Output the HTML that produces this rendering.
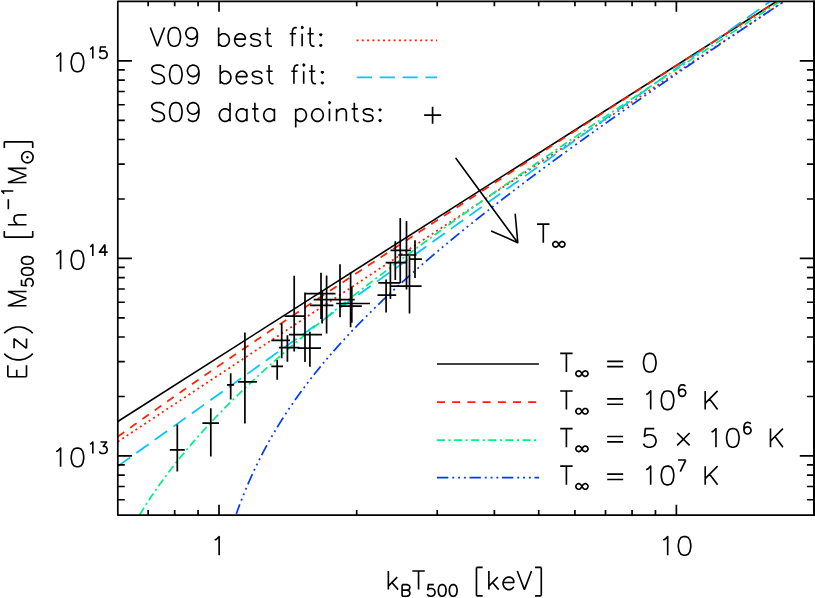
<!DOCTYPE html>
<html><head><meta charset="utf-8"><title>M500-T500 relation</title>
<style>html,body{margin:0;padding:0;background:#fff;font-family:"Liberation Sans",sans-serif}svg{display:block}</style></head>
<body><svg width="815" height="598" viewBox="0 0 815 598" role="img">
<title>E(z) M500 versus kB T500</title>
<desc>Log-log plot of E(z) M500 [h^-1 Msun] against kB T500 [keV]. Legend: V09 best fit (red dotted), S09 best fit (cyan long-dashed), S09 data points (+); T_inf = 0 (black solid), T_inf = 10^6 K (red dashed), T_inf = 5 x 10^6 K (green dash-dot), T_inf = 10^7 K (blue dash-dot-dot-dot). Arrow labelled T_inf.</desc>
<rect x="0" y="0" width="815" height="598" fill="#fff"/>
<clipPath id="c"><rect x="117.8" y="1.37" width="696.1" height="513.75"/></clipPath>
<g clip-path="url(#c)" fill="none" stroke-width="1.75">
<path d="M117.80 421.46 L813.90 -22.38" stroke="#000" stroke-width="1.62"/>
<path d="M117.80 441.70 L813.90 -18.19" stroke="#ff2000" stroke-dasharray="2 3.3"/>
<path d="M117.80 466.19 L813.90 -29.77" stroke="#00c8ff" stroke-dasharray="15.2 7.52"/>
<path d="M117.80 436.70 L118.30 436.34 L118.80 435.98 L119.30 435.62 L119.80 435.25 L120.30 434.89 L120.80 434.53 L121.30 434.17 L121.80 433.81 L122.30 433.45 L122.80 433.09 L123.30 432.73 L123.80 432.37 L124.30 432.01 L124.80 431.65 L125.30 431.29 L125.80 430.93 L126.30 430.57 L126.80 430.21 L127.30 429.85 L127.80 429.49 L128.30 429.13 L128.80 428.77 L129.30 428.42 L129.80 428.06 L130.30 427.70 L130.80 427.34 L131.30 426.98 L131.80 426.62 L132.30 426.27 L132.80 425.91 L133.30 425.55 L133.80 425.19 L134.30 424.83 L134.80 424.48 L135.30 424.12 L135.80 423.76 L136.30 423.40 L136.80 423.05 L137.30 422.69 L137.80 422.33 L138.30 421.98 L138.80 421.62 L139.30 421.26 L139.80 420.91 L140.30 420.55 L140.80 420.19 L141.30 419.84 L141.80 419.48 L142.30 419.13 L142.80 418.77 L143.30 418.41 L143.80 418.06 L144.30 417.70 L144.80 417.35 L145.30 416.99 L145.80 416.64 L146.30 416.28 L146.80 415.93 L147.30 415.57 L147.80 415.22 L148.30 414.86 L148.80 414.51 L149.30 414.15 L149.80 413.80 L150.30 413.44 L150.81 413.09 L151.31 412.74 L151.81 412.38 L152.31 412.03 L152.81 411.67 L153.31 411.32 L153.81 410.97 L154.31 410.61 L154.81 410.26 L155.31 409.91 L155.81 409.55 L156.31 409.20 L156.81 408.85 L157.31 408.49 L157.81 408.14 L158.31 407.79 L158.81 407.44 L159.31 407.08 L159.81 406.73 L160.31 406.38 L160.81 406.03 L161.31 405.67 L161.81 405.32 L162.31 404.97 L162.81 404.62 L163.31 404.27 L163.81 403.91 L164.31 403.56 L164.81 403.21 L165.31 402.86 L165.81 402.51 L166.31 402.16 L166.81 401.81 L167.31 401.45 L167.81 401.10 L168.31 400.75 L168.81 400.40 L169.31 400.05 L169.81 399.70 L170.31 399.35 L170.81 399.00 L171.31 398.65 L171.81 398.30 L172.31 397.95 L172.81 397.60 L173.31 397.25 L173.81 396.90 L174.31 396.55 L174.81 396.20 L175.31 395.85 L175.81 395.50 L176.31 395.15 L176.81 394.80 L177.31 394.45 L177.81 394.10 L178.31 393.75 L178.81 393.40 L179.31 393.06 L179.81 392.71 L180.31 392.36 L180.81 392.01 L181.31 391.66 L181.81 391.31 L182.31 390.96 L182.81 390.62 L183.31 390.27 L183.81 389.92 L184.31 389.57 L184.81 389.22 L185.31 388.87 L185.81 388.53 L186.31 388.18 L186.81 387.83 L187.31 387.48 L187.81 387.14 L188.31 386.79 L188.81 386.44 L189.31 386.09 L189.81 385.75 L190.31 385.40 L190.81 385.05 L191.31 384.71 L191.81 384.36 L192.31 384.01 L192.81 383.66 L193.31 383.32 L193.81 382.97 L194.31 382.62 L194.81 382.28 L195.31 381.93 L195.81 381.59 L196.31 381.24 L196.81 380.89 L197.31 380.55 L197.81 380.20 L198.31 379.85 L198.81 379.51 L199.31 379.16 L199.81 378.82 L200.31 378.47 L200.81 378.13 L201.31 377.78 L201.81 377.44 L202.31 377.09 L202.81 376.74 L203.31 376.40 L203.81 376.05 L204.31 375.71 L204.81 375.36 L205.31 375.02 L205.81 374.67 L206.31 374.33 L206.81 373.98 L207.31 373.64 L207.81 373.30 L208.31 372.95 L208.81 372.61 L209.31 372.26 L209.81 371.92 L210.31 371.57 L210.81 371.23 L211.31 370.89 L211.81 370.54 L212.31 370.20 L212.81 369.85 L213.31 369.51 L213.81 369.17 L214.31 368.82 L214.81 368.48 L215.31 368.14 L215.81 367.79 L216.31 367.45 L216.81 367.10 L217.31 366.76 L217.81 366.42 L218.31 366.08 L218.81 365.73 L219.31 365.39 L219.81 365.05 L220.31 364.70 L220.81 364.36 L221.32 364.02 L221.82 363.68 L222.32 363.33 L222.82 362.99 L223.32 362.65 L223.82 362.31 L224.32 361.96 L224.82 361.62 L225.32 361.28 L225.82 360.94 L226.32 360.59 L226.82 360.25 L227.32 359.91 L227.82 359.57 L228.32 359.23 L228.82 358.88 L229.32 358.54 L229.82 358.20 L230.32 357.86 L230.82 357.52 L231.32 357.18 L231.82 356.83 L232.32 356.49 L232.82 356.15 L233.32 355.81 L233.82 355.47 L234.32 355.13 L234.82 354.79 L235.32 354.45 L235.82 354.11 L236.32 353.76 L236.82 353.42 L237.32 353.08 L237.82 352.74 L238.32 352.40 L238.82 352.06 L239.32 351.72 L239.82 351.38 L240.32 351.04 L240.82 350.70 L241.32 350.36 L241.82 350.02 L242.32 349.68 L242.82 349.34 L243.32 349.00 L243.82 348.66 L244.32 348.32 L244.82 347.98 L245.32 347.64 L245.82 347.30 L246.32 346.96 L246.82 346.62 L247.32 346.28 L247.82 345.94 L248.32 345.60 L248.82 345.26 L249.32 344.92 L249.82 344.58 L250.32 344.24 L250.82 343.90 L251.32 343.57 L251.82 343.23 L252.32 342.89 L252.82 342.55 L253.32 342.21 L253.82 341.87 L254.32 341.53 L254.82 341.19 L255.32 340.85 L255.82 340.52 L256.32 340.18 L256.82 339.84 L257.32 339.50 L257.82 339.16 L258.32 338.82 L258.82 338.48 L259.32 338.15 L259.82 337.81 L260.32 337.47 L260.82 337.13 L261.32 336.79 L261.82 336.46 L262.32 336.12 L262.82 335.78 L263.32 335.44 L263.82 335.10 L264.32 334.77 L264.82 334.43 L265.32 334.09 L265.82 333.75 L266.32 333.42 L266.82 333.08 L267.32 332.74 L267.82 332.40 L268.32 332.07 L268.82 331.73 L269.32 331.39 L269.82 331.05 L270.32 330.72 L270.82 330.38 L271.32 330.04 L271.82 329.71 L272.32 329.37 L272.82 329.03 L273.32 328.69 L273.82 328.36 L274.32 328.02 L274.82 327.68 L275.32 327.35 L275.82 327.01 L276.32 326.67 L276.82 326.34 L277.32 326.00 L277.82 325.66 L278.32 325.33 L278.82 324.99 L279.32 324.66 L279.82 324.32 L280.32 323.98 L280.82 323.65 L281.32 323.31 L281.82 322.97 L282.32 322.64 L282.82 322.30 L283.32 321.97 L283.82 321.63 L284.32 321.30 L284.82 320.96 L285.32 320.62 L285.82 320.29 L286.32 319.95 L286.82 319.62 L287.32 319.28 L287.82 318.95 L288.32 318.61 L288.82 318.27 L289.32 317.94 L289.82 317.60 L290.32 317.27 L290.82 316.93 L291.33 316.60 L291.83 316.26 L292.33 315.93 L292.83 315.59 L293.33 315.26 L293.83 314.92 L294.33 314.59 L294.83 314.25 L295.33 313.92 L295.83 313.58 L296.33 313.25 L296.83 312.91 L297.33 312.58 L297.83 312.24 L298.33 311.91 L298.83 311.57 L299.33 311.24 L299.83 310.91 L300.33 310.57 L300.83 310.24 L301.33 309.90 L301.83 309.57 L302.33 309.23 L302.83 308.90 L303.33 308.56 L303.83 308.23 L304.33 307.90 L304.83 307.56 L305.33 307.23 L305.83 306.89 L306.33 306.56 L306.83 306.23 L307.33 305.89 L307.83 305.56 L308.33 305.22 L308.83 304.89 L309.33 304.56 L309.83 304.22 L310.33 303.89 L310.83 303.56 L311.33 303.22 L311.83 302.89 L312.33 302.56 L312.83 302.22 L313.33 301.89 L313.83 301.56 L314.33 301.22 L314.83 300.89 L315.33 300.56 L315.83 300.22 L316.33 299.89 L316.83 299.56 L317.33 299.22 L317.83 298.89 L318.33 298.56 L318.83 298.22 L319.33 297.89 L319.83 297.56 L320.33 297.22 L320.83 296.89 L321.33 296.56 L321.83 296.23 L322.33 295.89 L322.83 295.56 L323.33 295.23 L323.83 294.90 L324.33 294.56 L324.83 294.23 L325.33 293.90 L325.83 293.56 L326.33 293.23 L326.83 292.90 L327.33 292.57 L327.83 292.24 L328.33 291.90 L328.83 291.57 L329.33 291.24 L329.83 290.91 L330.33 290.57 L330.83 290.24 L331.33 289.91 L331.83 289.58 L332.33 289.25 L332.83 288.91 L333.33 288.58 L333.83 288.25 L334.33 287.92 L334.83 287.59 L335.33 287.25 L335.83 286.92 L336.33 286.59 L336.83 286.26 L337.33 285.93 L337.83 285.60 L338.33 285.26 L338.83 284.93 L339.33 284.60 L339.83 284.27 L340.33 283.94 L340.83 283.61 L341.33 283.27 L341.83 282.94 L342.33 282.61 L342.83 282.28 L343.33 281.95 L343.83 281.62 L344.33 281.29 L344.83 280.96 L345.33 280.62 L345.83 280.29 L346.33 279.96 L346.83 279.63 L347.33 279.30 L347.83 278.97 L348.33 278.64 L348.83 278.31 L349.33 277.98 L349.83 277.65 L350.33 277.31 L350.83 276.98 L351.33 276.65 L351.83 276.32 L352.33 275.99 L352.83 275.66 L353.33 275.33 L353.83 275.00 L354.33 274.67 L354.83 274.34 L355.33 274.01 L355.83 273.68 L356.33 273.35 L356.83 273.02 L357.33 272.69 L357.83 272.36 L358.33 272.02 L358.83 271.69 L359.33 271.36 L359.83 271.03 L360.33 270.70 L360.83 270.37 L361.34 270.04 L361.84 269.71 L362.34 269.38 L362.84 269.05 L363.34 268.72 L363.84 268.39 L364.34 268.06 L364.84 267.73 L365.34 267.40 L365.84 267.07 L366.34 266.74 L366.84 266.41 L367.34 266.08 L367.84 265.75 L368.34 265.42 L368.84 265.09 L369.34 264.76 L369.84 264.43 L370.34 264.10 L370.84 263.78 L371.34 263.45 L371.84 263.12 L372.34 262.79 L372.84 262.46 L373.34 262.13 L373.84 261.80 L374.34 261.47 L374.84 261.14 L375.34 260.81 L375.84 260.48 L376.34 260.15 L376.84 259.82 L377.34 259.49 L377.84 259.16 L378.34 258.83 L378.84 258.50 L379.34 258.18 L379.84 257.85 L380.34 257.52 L380.84 257.19 L381.34 256.86 L381.84 256.53 L382.34 256.20 L382.84 255.87 L383.34 255.54 L383.84 255.21 L384.34 254.89 L384.84 254.56 L385.34 254.23 L385.84 253.90 L386.34 253.57 L386.84 253.24 L387.34 252.91 L387.84 252.58 L388.34 252.26 L388.84 251.93 L389.34 251.60 L389.84 251.27 L390.34 250.94 L390.84 250.61 L391.34 250.28 L391.84 249.96 L392.34 249.63 L392.84 249.30 L393.34 248.97 L393.84 248.64 L394.34 248.31 L394.84 247.98 L395.34 247.66 L395.84 247.33 L396.34 247.00 L396.84 246.67 L397.34 246.34 L397.84 246.01 L398.34 245.69 L398.84 245.36 L399.34 245.03 L399.84 244.70 L400.34 244.37 L400.84 244.05 L401.34 243.72 L401.84 243.39 L402.34 243.06 L402.84 242.73 L403.34 242.41 L403.84 242.08 L404.34 241.75 L404.84 241.42 L405.34 241.09 L405.84 240.77 L406.34 240.44 L406.84 240.11 L407.34 239.78 L407.84 239.46 L408.34 239.13 L408.84 238.80 L409.34 238.47 L409.84 238.14 L410.34 237.82 L410.84 237.49 L411.34 237.16 L411.84 236.83 L412.34 236.51 L412.84 236.18 L413.34 235.85 L413.84 235.52 L414.34 235.20 L414.84 234.87 L415.34 234.54 L415.84 234.21 L416.34 233.89 L416.84 233.56 L417.34 233.23 L417.84 232.91 L418.34 232.58 L418.84 232.25 L419.34 231.92 L419.84 231.60 L420.34 231.27 L420.84 230.94 L421.34 230.62 L421.84 230.29 L422.34 229.96 L422.84 229.63 L423.34 229.31 L423.84 228.98 L424.34 228.65 L424.84 228.33 L425.34 228.00 L425.84 227.67 L426.34 227.34 L426.84 227.02 L427.34 226.69 L427.84 226.36 L428.34 226.04 L428.84 225.71 L429.34 225.38 L429.84 225.06 L430.34 224.73 L430.85 224.40 L431.35 224.08 L431.85 223.75 L432.35 223.42 L432.85 223.10 L433.35 222.77 L433.85 222.44 L434.35 222.12 L434.85 221.79 L435.35 221.46 L435.85 221.14 L436.35 220.81 L436.85 220.48 L437.35 220.16 L437.85 219.83 L438.35 219.50 L438.85 219.18 L439.35 218.85 L439.85 218.53 L440.35 218.20 L440.85 217.87 L441.35 217.55 L441.85 217.22 L442.35 216.89 L442.85 216.57 L443.35 216.24 L443.85 215.91 L444.35 215.59 L444.85 215.26 L445.35 214.94 L445.85 214.61 L446.35 214.28 L446.85 213.96 L447.35 213.63 L447.85 213.31 L448.35 212.98 L448.85 212.65 L449.35 212.33 L449.85 212.00 L450.35 211.68 L450.85 211.35 L451.35 211.02 L451.85 210.70 L452.35 210.37 L452.85 210.05 L453.35 209.72 L453.85 209.39 L454.35 209.07 L454.85 208.74 L455.35 208.42 L455.85 208.09 L456.35 207.77 L456.85 207.44 L457.35 207.11 L457.85 206.79 L458.35 206.46 L458.85 206.14 L459.35 205.81 L459.85 205.49 L460.35 205.16 L460.85 204.83 L461.35 204.51 L461.85 204.18 L462.35 203.86 L462.85 203.53 L463.35 203.21 L463.85 202.88 L464.35 202.56 L464.85 202.23 L465.35 201.90 L465.85 201.58 L466.35 201.25 L466.85 200.93 L467.35 200.60 L467.85 200.28 L468.35 199.95 L468.85 199.63 L469.35 199.30 L469.85 198.98 L470.35 198.65 L470.85 198.33 L471.35 198.00 L471.85 197.67 L472.35 197.35 L472.85 197.02 L473.35 196.70 L473.85 196.37 L474.35 196.05 L474.85 195.72 L475.35 195.40 L475.85 195.07 L476.35 194.75 L476.85 194.42 L477.35 194.10 L477.85 193.77 L478.35 193.45 L478.85 193.12 L479.35 192.80 L479.85 192.47 L480.35 192.15 L480.85 191.82 L481.35 191.50 L481.85 191.17 L482.35 190.85 L482.85 190.52 L483.35 190.20 L483.85 189.87 L484.35 189.55 L484.85 189.22 L485.35 188.90 L485.85 188.57 L486.35 188.25 L486.85 187.93 L487.35 187.60 L487.85 187.28 L488.35 186.95 L488.85 186.63 L489.35 186.30 L489.85 185.98 L490.35 185.65 L490.85 185.33 L491.35 185.00 L491.85 184.68 L492.35 184.35 L492.85 184.03 L493.35 183.70 L493.85 183.38 L494.35 183.06 L494.85 182.73 L495.35 182.41 L495.85 182.08 L496.35 181.76 L496.85 181.43 L497.35 181.11 L497.85 180.78 L498.35 180.46 L498.85 180.14 L499.35 179.81 L499.85 179.49 L500.35 179.16 L500.86 178.84 L501.36 178.51 L501.86 178.19 L502.36 177.86 L502.86 177.54 L503.36 177.22 L503.86 176.89 L504.36 176.57 L504.86 176.24 L505.36 175.92 L505.86 175.59 L506.36 175.27 L506.86 174.95 L507.36 174.62 L507.86 174.30 L508.36 173.97 L508.86 173.65 L509.36 173.33 L509.86 173.00 L510.36 172.68 L510.86 172.35 L511.36 172.03 L511.86 171.71 L512.36 171.38 L512.86 171.06 L513.36 170.73 L513.86 170.41 L514.36 170.09 L514.86 169.76 L515.36 169.44 L515.86 169.11 L516.36 168.79 L516.86 168.47 L517.36 168.14 L517.86 167.82 L518.36 167.49 L518.86 167.17 L519.36 166.85 L519.86 166.52 L520.36 166.20 L520.86 165.87 L521.36 165.55 L521.86 165.23 L522.36 164.90 L522.86 164.58 L523.36 164.26 L523.86 163.93 L524.36 163.61 L524.86 163.28 L525.36 162.96 L525.86 162.64 L526.36 162.31 L526.86 161.99 L527.36 161.67 L527.86 161.34 L528.36 161.02 L528.86 160.70 L529.36 160.37 L529.86 160.05 L530.36 159.72 L530.86 159.40 L531.36 159.08 L531.86 158.75 L532.36 158.43 L532.86 158.11 L533.36 157.78 L533.86 157.46 L534.36 157.14 L534.86 156.81 L535.36 156.49 L535.86 156.17 L536.36 155.84 L536.86 155.52 L537.36 155.20 L537.86 154.87 L538.36 154.55 L538.86 154.23 L539.36 153.90 L539.86 153.58 L540.36 153.26 L540.86 152.93 L541.36 152.61 L541.86 152.29 L542.36 151.96 L542.86 151.64 L543.36 151.32 L543.86 150.99 L544.36 150.67 L544.86 150.35 L545.36 150.02 L545.86 149.70 L546.36 149.38 L546.86 149.05 L547.36 148.73 L547.86 148.41 L548.36 148.08 L548.86 147.76 L549.36 147.44 L549.86 147.11 L550.36 146.79 L550.86 146.47 L551.36 146.14 L551.86 145.82 L552.36 145.50 L552.86 145.18 L553.36 144.85 L553.86 144.53 L554.36 144.21 L554.86 143.88 L555.36 143.56 L555.86 143.24 L556.36 142.91 L556.86 142.59 L557.36 142.27 L557.86 141.95 L558.36 141.62 L558.86 141.30 L559.36 140.98 L559.86 140.65 L560.36 140.33 L560.86 140.01 L561.36 139.68 L561.86 139.36 L562.36 139.04 L562.86 138.72 L563.36 138.39 L563.86 138.07 L564.36 137.75 L564.86 137.42 L565.36 137.10 L565.86 136.78 L566.36 136.46 L566.86 136.13 L567.36 135.81 L567.86 135.49 L568.36 135.17 L568.86 134.84 L569.36 134.52 L569.86 134.20 L570.36 133.87 L570.87 133.55 L571.37 133.23 L571.87 132.91 L572.37 132.58 L572.87 132.26 L573.37 131.94 L573.87 131.62 L574.37 131.29 L574.87 130.97 L575.37 130.65 L575.87 130.33 L576.37 130.00 L576.87 129.68 L577.37 129.36 L577.87 129.04 L578.37 128.71 L578.87 128.39 L579.37 128.07 L579.87 127.75 L580.37 127.42 L580.87 127.10 L581.37 126.78 L581.87 126.46 L582.37 126.13 L582.87 125.81 L583.37 125.49 L583.87 125.17 L584.37 124.84 L584.87 124.52 L585.37 124.20 L585.87 123.88 L586.37 123.55 L586.87 123.23 L587.37 122.91 L587.87 122.59 L588.37 122.26 L588.87 121.94 L589.37 121.62 L589.87 121.30 L590.37 120.97 L590.87 120.65 L591.37 120.33 L591.87 120.01 L592.37 119.68 L592.87 119.36 L593.37 119.04 L593.87 118.72 L594.37 118.40 L594.87 118.07 L595.37 117.75 L595.87 117.43 L596.37 117.11 L596.87 116.78 L597.37 116.46 L597.87 116.14 L598.37 115.82 L598.87 115.50 L599.37 115.17 L599.87 114.85 L600.37 114.53 L600.87 114.21 L601.37 113.88 L601.87 113.56 L602.37 113.24 L602.87 112.92 L603.37 112.60 L603.87 112.27 L604.37 111.95 L604.87 111.63 L605.37 111.31 L605.87 110.99 L606.37 110.66 L606.87 110.34 L607.37 110.02 L607.87 109.70 L608.37 109.38 L608.87 109.05 L609.37 108.73 L609.87 108.41 L610.37 108.09 L610.87 107.77 L611.37 107.44 L611.87 107.12 L612.37 106.80 L612.87 106.48 L613.37 106.16 L613.87 105.83 L614.37 105.51 L614.87 105.19 L615.37 104.87 L615.87 104.55 L616.37 104.22 L616.87 103.90 L617.37 103.58 L617.87 103.26 L618.37 102.94 L618.87 102.62 L619.37 102.29 L619.87 101.97 L620.37 101.65 L620.87 101.33 L621.37 101.01 L621.87 100.68 L622.37 100.36 L622.87 100.04 L623.37 99.72 L623.87 99.40 L624.37 99.08 L624.87 98.75 L625.37 98.43 L625.87 98.11 L626.37 97.79 L626.87 97.47 L627.37 97.14 L627.87 96.82 L628.37 96.50 L628.87 96.18 L629.37 95.86 L629.87 95.54 L630.37 95.21 L630.87 94.89 L631.37 94.57 L631.87 94.25 L632.37 93.93 L632.87 93.61 L633.37 93.28 L633.87 92.96 L634.37 92.64 L634.87 92.32 L635.37 92.00 L635.87 91.68 L636.37 91.35 L636.87 91.03 L637.37 90.71 L637.87 90.39 L638.37 90.07 L638.87 89.75 L639.37 89.43 L639.87 89.10 L640.37 88.78 L640.88 88.46 L641.38 88.14 L641.88 87.82 L642.38 87.50 L642.88 87.17 L643.38 86.85 L643.88 86.53 L644.38 86.21 L644.88 85.89 L645.38 85.57 L645.88 85.25 L646.38 84.92 L646.88 84.60 L647.38 84.28 L647.88 83.96 L648.38 83.64 L648.88 83.32 L649.38 83.00 L649.88 82.67 L650.38 82.35 L650.88 82.03 L651.38 81.71 L651.88 81.39 L652.38 81.07 L652.88 80.75 L653.38 80.42 L653.88 80.10 L654.38 79.78 L654.88 79.46 L655.38 79.14 L655.88 78.82 L656.38 78.50 L656.88 78.17 L657.38 77.85 L657.88 77.53 L658.38 77.21 L658.88 76.89 L659.38 76.57 L659.88 76.25 L660.38 75.93 L660.88 75.60 L661.38 75.28 L661.88 74.96 L662.38 74.64 L662.88 74.32 L663.38 74.00 L663.88 73.68 L664.38 73.36 L664.88 73.03 L665.38 72.71 L665.88 72.39 L666.38 72.07 L666.88 71.75 L667.38 71.43 L667.88 71.11 L668.38 70.79 L668.88 70.46 L669.38 70.14 L669.88 69.82 L670.38 69.50 L670.88 69.18 L671.38 68.86 L671.88 68.54 L672.38 68.22 L672.88 67.90 L673.38 67.57 L673.88 67.25 L674.38 66.93 L674.88 66.61 L675.38 66.29 L675.88 65.97 L676.38 65.65 L676.88 65.33 L677.38 65.01 L677.88 64.68 L678.38 64.36 L678.88 64.04 L679.38 63.72 L679.88 63.40 L680.38 63.08 L680.88 62.76 L681.38 62.44 L681.88 62.12 L682.38 61.79 L682.88 61.47 L683.38 61.15 L683.88 60.83 L684.38 60.51 L684.88 60.19 L685.38 59.87 L685.88 59.55 L686.38 59.23 L686.88 58.91 L687.38 58.58 L687.88 58.26 L688.38 57.94 L688.88 57.62 L689.38 57.30 L689.88 56.98 L690.38 56.66 L690.88 56.34 L691.38 56.02 L691.88 55.70 L692.38 55.38 L692.88 55.05 L693.38 54.73 L693.88 54.41 L694.38 54.09 L694.88 53.77 L695.38 53.45 L695.88 53.13 L696.38 52.81 L696.88 52.49 L697.38 52.17 L697.88 51.85 L698.38 51.52 L698.88 51.20 L699.38 50.88 L699.88 50.56 L700.38 50.24 L700.88 49.92 L701.38 49.60 L701.88 49.28 L702.38 48.96 L702.88 48.64 L703.38 48.32 L703.88 48.00 L704.38 47.67 L704.88 47.35 L705.38 47.03 L705.88 46.71 L706.38 46.39 L706.88 46.07 L707.38 45.75 L707.88 45.43 L708.38 45.11 L708.88 44.79 L709.38 44.47 L709.88 44.15 L710.38 43.83 L710.88 43.50 L711.39 43.18 L711.89 42.86 L712.39 42.54 L712.89 42.22 L713.39 41.90 L713.89 41.58 L714.39 41.26 L714.89 40.94 L715.39 40.62 L715.89 40.30 L716.39 39.98 L716.89 39.66 L717.39 39.34 L717.89 39.01 L718.39 38.69 L718.89 38.37 L719.39 38.05 L719.89 37.73 L720.39 37.41 L720.89 37.09 L721.39 36.77 L721.89 36.45 L722.39 36.13 L722.89 35.81 L723.39 35.49 L723.89 35.17 L724.39 34.85 L724.89 34.53 L725.39 34.21 L725.89 33.88 L726.39 33.56 L726.89 33.24 L727.39 32.92 L727.89 32.60 L728.39 32.28 L728.89 31.96 L729.39 31.64 L729.89 31.32 L730.39 31.00 L730.89 30.68 L731.39 30.36 L731.89 30.04 L732.39 29.72 L732.89 29.40 L733.39 29.08 L733.89 28.76 L734.39 28.44 L734.89 28.11 L735.39 27.79 L735.89 27.47 L736.39 27.15 L736.89 26.83 L737.39 26.51 L737.89 26.19 L738.39 25.87 L738.89 25.55 L739.39 25.23 L739.89 24.91 L740.39 24.59 L740.89 24.27 L741.39 23.95 L741.89 23.63 L742.39 23.31 L742.89 22.99 L743.39 22.67 L743.89 22.35 L744.39 22.03 L744.89 21.71 L745.39 21.38 L745.89 21.06 L746.39 20.74 L746.89 20.42 L747.39 20.10 L747.89 19.78 L748.39 19.46 L748.89 19.14 L749.39 18.82 L749.89 18.50 L750.39 18.18 L750.89 17.86 L751.39 17.54 L751.89 17.22 L752.39 16.90 L752.89 16.58 L753.39 16.26 L753.89 15.94 L754.39 15.62 L754.89 15.30 L755.39 14.98 L755.89 14.66 L756.39 14.34 L756.89 14.02 L757.39 13.70 L757.89 13.38 L758.39 13.05 L758.89 12.73 L759.39 12.41 L759.89 12.09 L760.39 11.77 L760.89 11.45 L761.39 11.13 L761.89 10.81 L762.39 10.49 L762.89 10.17 L763.39 9.85 L763.89 9.53 L764.39 9.21 L764.89 8.89 L765.39 8.57 L765.89 8.25 L766.39 7.93 L766.89 7.61 L767.39 7.29 L767.89 6.97 L768.39 6.65 L768.89 6.33 L769.39 6.01 L769.89 5.69 L770.39 5.37 L770.89 5.05 L771.39 4.73 L771.89 4.41 L772.39 4.09 L772.89 3.77 L773.39 3.45 L773.89 3.13 L774.39 2.81 L774.89 2.49 L775.39 2.17 L775.89 1.85 L776.39 1.53 L776.89 1.21 L777.39 0.88 L777.89 0.56 L778.39 0.24 L778.89 -0.08 L779.39 -0.40 L779.89 -0.72 L780.39 -1.04 L780.89 -1.36 L781.40 -1.68 L781.90 -2.00 L782.40 -2.32 L782.90 -2.64 L783.40 -2.96 L783.90 -3.28 L784.40 -3.60 L784.90 -3.92 L785.40 -4.24 L785.90 -4.56 L786.40 -4.88 L786.90 -5.20 L787.40 -5.52 L787.90 -5.84 L788.40 -6.16 L788.90 -6.48 L789.40 -6.80 L789.90 -7.12 L790.40 -7.44 L790.90 -7.76 L791.40 -8.08 L791.90 -8.40 L792.40 -8.72 L792.90 -9.04 L793.40 -9.36 L793.90 -9.68 L794.40 -10.00 L794.90 -10.32 L795.40 -10.64 L795.90 -10.96 L796.40 -11.28 L796.90 -11.60 L797.40 -11.92 L797.90 -12.24 L798.40 -12.56 L798.90 -12.88 L799.40 -13.20 L799.90 -13.52 L800.40 -13.84 L800.90 -14.16 L801.40 -14.48 L801.90 -14.80 L802.40 -15.12 L802.90 -15.44 L803.40 -15.76 L803.90 -16.08 L804.40 -16.40 L804.90 -16.72 L805.40 -17.04 L805.90 -17.36 L806.40 -17.68 L806.90 -18.00 L807.40 -18.32 L807.90 -18.64 L808.40 -18.96 L808.90 -19.28 L809.40 -19.60 L809.90 -19.92 L810.40 -20.24 L810.90 -20.56 L811.40 -20.88 L811.90 -21.20 L812.40 -21.52 L812.90 -21.84 L813.40 -22.16 L813.90 -22.48 L814.40 -22.80 L814.90 -23.12 L815.40 -23.44 L815.90 -23.76" stroke="#ff2000" stroke-dasharray="8 7.15"/>
<path d="M139.80 514.62 L140.30 513.80 L140.80 512.98 L141.30 512.17 L141.80 511.36 L142.30 510.55 L142.80 509.75 L143.30 508.95 L143.80 508.15 L144.30 507.36 L144.80 506.57 L145.30 505.78 L145.80 505.00 L146.30 504.22 L146.80 503.44 L147.30 502.67 L147.80 501.90 L148.30 501.13 L148.80 500.37 L149.30 499.61 L149.80 498.85 L150.30 498.10 L150.81 497.35 L151.31 496.60 L151.81 495.85 L152.31 495.11 L152.81 494.37 L153.31 493.64 L153.81 492.90 L154.31 492.17 L154.81 491.44 L155.31 490.72 L155.81 489.99 L156.31 489.28 L156.81 488.56 L157.31 487.84 L157.81 487.13 L158.31 486.42 L158.81 485.71 L159.31 485.01 L159.81 484.31 L160.31 483.61 L160.81 482.91 L161.31 482.22 L161.81 481.53 L162.31 480.84 L162.81 480.15 L163.31 479.46 L163.81 478.78 L164.31 478.10 L164.81 477.42 L165.31 476.75 L165.81 476.07 L166.31 475.40 L166.81 474.73 L167.31 474.07 L167.81 473.40 L168.31 472.74 L168.81 472.08 L169.31 471.42 L169.81 470.76 L170.31 470.11 L170.81 469.45 L171.31 468.80 L171.81 468.16 L172.31 467.51 L172.81 466.87 L173.31 466.22 L173.81 465.58 L174.31 464.94 L174.81 464.31 L175.31 463.67 L175.81 463.04 L176.31 462.41 L176.81 461.78 L177.31 461.15 L177.81 460.52 L178.31 459.90 L178.81 459.28 L179.31 458.66 L179.81 458.04 L180.31 457.42 L180.81 456.81 L181.31 456.19 L181.81 455.58 L182.31 454.97 L182.81 454.36 L183.31 453.75 L183.81 453.15 L184.31 452.55 L184.81 451.94 L185.31 451.34 L185.81 450.74 L186.31 450.15 L186.81 449.55 L187.31 448.96 L187.81 448.36 L188.31 447.77 L188.81 447.18 L189.31 446.59 L189.81 446.01 L190.31 445.42 L190.81 444.84 L191.31 444.25 L191.81 443.67 L192.31 443.09 L192.81 442.51 L193.31 441.94 L193.81 441.36 L194.31 440.79 L194.81 440.21 L195.31 439.64 L195.81 439.07 L196.31 438.50 L196.81 437.93 L197.31 437.37 L197.81 436.80 L198.31 436.24 L198.81 435.68 L199.31 435.12 L199.81 434.56 L200.31 434.00 L200.81 433.44 L201.31 432.88 L201.81 432.33 L202.31 431.77 L202.81 431.22 L203.31 430.67 L203.81 430.12 L204.31 429.57 L204.81 429.02 L205.31 428.47 L205.81 427.93 L206.31 427.38 L206.81 426.84 L207.31 426.30 L207.81 425.76 L208.31 425.22 L208.81 424.68 L209.31 424.14 L209.81 423.60 L210.31 423.07 L210.81 422.53 L211.31 422.00 L211.81 421.47 L212.31 420.93 L212.81 420.40 L213.31 419.87 L213.81 419.35 L214.31 418.82 L214.81 418.29 L215.31 417.77 L215.81 417.24 L216.31 416.72 L216.81 416.20 L217.31 415.67 L217.81 415.15 L218.31 414.63 L218.81 414.11 L219.31 413.60 L219.81 413.08 L220.31 412.56 L220.81 412.05 L221.32 411.53 L221.82 411.02 L222.32 410.51 L222.82 410.00 L223.32 409.49 L223.82 408.98 L224.32 408.47 L224.82 407.96 L225.32 407.45 L225.82 406.95 L226.32 406.44 L226.82 405.94 L227.32 405.43 L227.82 404.93 L228.32 404.43 L228.82 403.93 L229.32 403.43 L229.82 402.93 L230.32 402.43 L230.82 401.93 L231.32 401.44 L231.82 400.94 L232.32 400.44 L232.82 399.95 L233.32 399.46 L233.82 398.96 L234.32 398.47 L234.82 397.98 L235.32 397.49 L235.82 397.00 L236.32 396.51 L236.82 396.02 L237.32 395.53 L237.82 395.05 L238.32 394.56 L238.82 394.07 L239.32 393.59 L239.82 393.10 L240.32 392.62 L240.82 392.14 L241.32 391.66 L241.82 391.18 L242.32 390.69 L242.82 390.22 L243.32 389.74 L243.82 389.26 L244.32 388.78 L244.82 388.30 L245.32 387.83 L245.82 387.35 L246.32 386.87 L246.82 386.40 L247.32 385.93 L247.82 385.45 L248.32 384.98 L248.82 384.51 L249.32 384.04 L249.82 383.57 L250.32 383.10 L250.82 382.63 L251.32 382.16 L251.82 381.69 L252.32 381.22 L252.82 380.76 L253.32 380.29 L253.82 379.82 L254.32 379.36 L254.82 378.90 L255.32 378.43 L255.82 377.97 L256.32 377.51 L256.82 377.04 L257.32 376.58 L257.82 376.12 L258.32 375.66 L258.82 375.20 L259.32 374.74 L259.82 374.28 L260.32 373.83 L260.82 373.37 L261.32 372.91 L261.82 372.45 L262.32 372.00 L262.82 371.54 L263.32 371.09 L263.82 370.63 L264.32 370.18 L264.82 369.73 L265.32 369.28 L265.82 368.82 L266.32 368.37 L266.82 367.92 L267.32 367.47 L267.82 367.02 L268.32 366.57 L268.82 366.12 L269.32 365.67 L269.82 365.23 L270.32 364.78 L270.82 364.33 L271.32 363.88 L271.82 363.44 L272.32 362.99 L272.82 362.55 L273.32 362.10 L273.82 361.66 L274.32 361.22 L274.82 360.77 L275.32 360.33 L275.82 359.89 L276.32 359.45 L276.82 359.01 L277.32 358.57 L277.82 358.13 L278.32 357.69 L278.82 357.25 L279.32 356.81 L279.82 356.37 L280.32 355.93 L280.82 355.49 L281.32 355.06 L281.82 354.62 L282.32 354.19 L282.82 353.75 L283.32 353.31 L283.82 352.88 L284.32 352.45 L284.82 352.01 L285.32 351.58 L285.82 351.14 L286.32 350.71 L286.82 350.28 L287.32 349.85 L287.82 349.42 L288.32 348.99 L288.82 348.56 L289.32 348.13 L289.82 347.70 L290.32 347.27 L290.82 346.84 L291.33 346.41 L291.83 345.98 L292.33 345.55 L292.83 345.13 L293.33 344.70 L293.83 344.27 L294.33 343.85 L294.83 343.42 L295.33 343.00 L295.83 342.57 L296.33 342.15 L296.83 341.72 L297.33 341.30 L297.83 340.88 L298.33 340.45 L298.83 340.03 L299.33 339.61 L299.83 339.19 L300.33 338.76 L300.83 338.34 L301.33 337.92 L301.83 337.50 L302.33 337.08 L302.83 336.66 L303.33 336.24 L303.83 335.82 L304.33 335.41 L304.83 334.99 L305.33 334.57 L305.83 334.15 L306.33 333.73 L306.83 333.32 L307.33 332.90 L307.83 332.49 L308.33 332.07 L308.83 331.65 L309.33 331.24 L309.83 330.82 L310.33 330.41 L310.83 330.00 L311.33 329.58 L311.83 329.17 L312.33 328.76 L312.83 328.34 L313.33 327.93 L313.83 327.52 L314.33 327.11 L314.83 326.69 L315.33 326.28 L315.83 325.87 L316.33 325.46 L316.83 325.05 L317.33 324.64 L317.83 324.23 L318.33 323.82 L318.83 323.41 L319.33 323.01 L319.83 322.60 L320.33 322.19 L320.83 321.78 L321.33 321.37 L321.83 320.97 L322.33 320.56 L322.83 320.15 L323.33 319.75 L323.83 319.34 L324.33 318.94 L324.83 318.53 L325.33 318.13 L325.83 317.72 L326.33 317.32 L326.83 316.91 L327.33 316.51 L327.83 316.11 L328.33 315.70 L328.83 315.30 L329.33 314.90 L329.83 314.49 L330.33 314.09 L330.83 313.69 L331.33 313.29 L331.83 312.89 L332.33 312.49 L332.83 312.09 L333.33 311.69 L333.83 311.29 L334.33 310.89 L334.83 310.49 L335.33 310.09 L335.83 309.69 L336.33 309.29 L336.83 308.89 L337.33 308.49 L337.83 308.09 L338.33 307.70 L338.83 307.30 L339.33 306.90 L339.83 306.50 L340.33 306.11 L340.83 305.71 L341.33 305.31 L341.83 304.92 L342.33 304.52 L342.83 304.13 L343.33 303.73 L343.83 303.34 L344.33 302.94 L344.83 302.55 L345.33 302.15 L345.83 301.76 L346.33 301.37 L346.83 300.97 L347.33 300.58 L347.83 300.19 L348.33 299.79 L348.83 299.40 L349.33 299.01 L349.83 298.62 L350.33 298.22 L350.83 297.83 L351.33 297.44 L351.83 297.05 L352.33 296.66 L352.83 296.27 L353.33 295.88 L353.83 295.49 L354.33 295.10 L354.83 294.71 L355.33 294.32 L355.83 293.93 L356.33 293.54 L356.83 293.15 L357.33 292.76 L357.83 292.38 L358.33 291.99 L358.83 291.60 L359.33 291.21 L359.83 290.82 L360.33 290.44 L360.83 290.05 L361.34 289.66 L361.84 289.28 L362.34 288.89 L362.84 288.50 L363.34 288.12 L363.84 287.73 L364.34 287.35 L364.84 286.96 L365.34 286.58 L365.84 286.19 L366.34 285.81 L366.84 285.42 L367.34 285.04 L367.84 284.65 L368.34 284.27 L368.84 283.89 L369.34 283.50 L369.84 283.12 L370.34 282.74 L370.84 282.35 L371.34 281.97 L371.84 281.59 L372.34 281.21 L372.84 280.83 L373.34 280.44 L373.84 280.06 L374.34 279.68 L374.84 279.30 L375.34 278.92 L375.84 278.54 L376.34 278.16 L376.84 277.78 L377.34 277.40 L377.84 277.02 L378.34 276.64 L378.84 276.26 L379.34 275.88 L379.84 275.50 L380.34 275.12 L380.84 274.74 L381.34 274.36 L381.84 273.98 L382.34 273.60 L382.84 273.23 L383.34 272.85 L383.84 272.47 L384.34 272.09 L384.84 271.71 L385.34 271.34 L385.84 270.96 L386.34 270.58 L386.84 270.21 L387.34 269.83 L387.84 269.45 L388.34 269.08 L388.84 268.70 L389.34 268.33 L389.84 267.95 L390.34 267.57 L390.84 267.20 L391.34 266.82 L391.84 266.45 L392.34 266.07 L392.84 265.70 L393.34 265.32 L393.84 264.95 L394.34 264.58 L394.84 264.20 L395.34 263.83 L395.84 263.45 L396.34 263.08 L396.84 262.71 L397.34 262.33 L397.84 261.96 L398.34 261.59 L398.84 261.22 L399.34 260.84 L399.84 260.47 L400.34 260.10 L400.84 259.73 L401.34 259.36 L401.84 258.98 L402.34 258.61 L402.84 258.24 L403.34 257.87 L403.84 257.50 L404.34 257.13 L404.84 256.76 L405.34 256.39 L405.84 256.02 L406.34 255.65 L406.84 255.28 L407.34 254.91 L407.84 254.54 L408.34 254.17 L408.84 253.80 L409.34 253.43 L409.84 253.06 L410.34 252.69 L410.84 252.32 L411.34 251.95 L411.84 251.58 L412.34 251.21 L412.84 250.85 L413.34 250.48 L413.84 250.11 L414.34 249.74 L414.84 249.37 L415.34 249.01 L415.84 248.64 L416.34 248.27 L416.84 247.90 L417.34 247.54 L417.84 247.17 L418.34 246.80 L418.84 246.44 L419.34 246.07 L419.84 245.70 L420.34 245.34 L420.84 244.97 L421.34 244.61 L421.84 244.24 L422.34 243.88 L422.84 243.51 L423.34 243.14 L423.84 242.78 L424.34 242.41 L424.84 242.05 L425.34 241.68 L425.84 241.32 L426.34 240.96 L426.84 240.59 L427.34 240.23 L427.84 239.86 L428.34 239.50 L428.84 239.14 L429.34 238.77 L429.84 238.41 L430.34 238.04 L430.85 237.68 L431.35 237.32 L431.85 236.95 L432.35 236.59 L432.85 236.23 L433.35 235.87 L433.85 235.50 L434.35 235.14 L434.85 234.78 L435.35 234.42 L435.85 234.06 L436.35 233.69 L436.85 233.33 L437.35 232.97 L437.85 232.61 L438.35 232.25 L438.85 231.89 L439.35 231.52 L439.85 231.16 L440.35 230.80 L440.85 230.44 L441.35 230.08 L441.85 229.72 L442.35 229.36 L442.85 229.00 L443.35 228.64 L443.85 228.28 L444.35 227.92 L444.85 227.56 L445.35 227.20 L445.85 226.84 L446.35 226.48 L446.85 226.12 L447.35 225.76 L447.85 225.40 L448.35 225.04 L448.85 224.69 L449.35 224.33 L449.85 223.97 L450.35 223.61 L450.85 223.25 L451.35 222.89 L451.85 222.53 L452.35 222.18 L452.85 221.82 L453.35 221.46 L453.85 221.10 L454.35 220.75 L454.85 220.39 L455.35 220.03 L455.85 219.67 L456.35 219.32 L456.85 218.96 L457.35 218.60 L457.85 218.24 L458.35 217.89 L458.85 217.53 L459.35 217.18 L459.85 216.82 L460.35 216.46 L460.85 216.11 L461.35 215.75 L461.85 215.39 L462.35 215.04 L462.85 214.68 L463.35 214.33 L463.85 213.97 L464.35 213.62 L464.85 213.26 L465.35 212.90 L465.85 212.55 L466.35 212.19 L466.85 211.84 L467.35 211.48 L467.85 211.13 L468.35 210.78 L468.85 210.42 L469.35 210.07 L469.85 209.71 L470.35 209.36 L470.85 209.00 L471.35 208.65 L471.85 208.30 L472.35 207.94 L472.85 207.59 L473.35 207.23 L473.85 206.88 L474.35 206.53 L474.85 206.17 L475.35 205.82 L475.85 205.47 L476.35 205.11 L476.85 204.76 L477.35 204.41 L477.85 204.06 L478.35 203.70 L478.85 203.35 L479.35 203.00 L479.85 202.65 L480.35 202.29 L480.85 201.94 L481.35 201.59 L481.85 201.24 L482.35 200.89 L482.85 200.53 L483.35 200.18 L483.85 199.83 L484.35 199.48 L484.85 199.13 L485.35 198.78 L485.85 198.42 L486.35 198.07 L486.85 197.72 L487.35 197.37 L487.85 197.02 L488.35 196.67 L488.85 196.32 L489.35 195.97 L489.85 195.62 L490.35 195.27 L490.85 194.92 L491.35 194.57 L491.85 194.22 L492.35 193.87 L492.85 193.52 L493.35 193.17 L493.85 192.82 L494.35 192.47 L494.85 192.12 L495.35 191.77 L495.85 191.42 L496.35 191.07 L496.85 190.72 L497.35 190.37 L497.85 190.02 L498.35 189.67 L498.85 189.32 L499.35 188.97 L499.85 188.62 L500.35 188.28 L500.86 187.93 L501.36 187.58 L501.86 187.23 L502.36 186.88 L502.86 186.53 L503.36 186.19 L503.86 185.84 L504.36 185.49 L504.86 185.14 L505.36 184.79 L505.86 184.45 L506.36 184.10 L506.86 183.75 L507.36 183.40 L507.86 183.05 L508.36 182.71 L508.86 182.36 L509.36 182.01 L509.86 181.67 L510.36 181.32 L510.86 180.97 L511.36 180.62 L511.86 180.28 L512.36 179.93 L512.86 179.58 L513.36 179.24 L513.86 178.89 L514.36 178.54 L514.86 178.20 L515.36 177.85 L515.86 177.50 L516.36 177.16 L516.86 176.81 L517.36 176.47 L517.86 176.12 L518.36 175.77 L518.86 175.43 L519.36 175.08 L519.86 174.74 L520.36 174.39 L520.86 174.05 L521.36 173.70 L521.86 173.36 L522.36 173.01 L522.86 172.66 L523.36 172.32 L523.86 171.97 L524.36 171.63 L524.86 171.28 L525.36 170.94 L525.86 170.59 L526.36 170.25 L526.86 169.91 L527.36 169.56 L527.86 169.22 L528.36 168.87 L528.86 168.53 L529.36 168.18 L529.86 167.84 L530.36 167.49 L530.86 167.15 L531.36 166.81 L531.86 166.46 L532.36 166.12 L532.86 165.77 L533.36 165.43 L533.86 165.09 L534.36 164.74 L534.86 164.40 L535.36 164.06 L535.86 163.71 L536.36 163.37 L536.86 163.03 L537.36 162.68 L537.86 162.34 L538.36 162.00 L538.86 161.65 L539.36 161.31 L539.86 160.97 L540.36 160.63 L540.86 160.28 L541.36 159.94 L541.86 159.60 L542.36 159.25 L542.86 158.91 L543.36 158.57 L543.86 158.23 L544.36 157.89 L544.86 157.54 L545.36 157.20 L545.86 156.86 L546.36 156.52 L546.86 156.17 L547.36 155.83 L547.86 155.49 L548.36 155.15 L548.86 154.81 L549.36 154.47 L549.86 154.12 L550.36 153.78 L550.86 153.44 L551.36 153.10 L551.86 152.76 L552.36 152.42 L552.86 152.08 L553.36 151.73 L553.86 151.39 L554.36 151.05 L554.86 150.71 L555.36 150.37 L555.86 150.03 L556.36 149.69 L556.86 149.35 L557.36 149.01 L557.86 148.67 L558.36 148.33 L558.86 147.99 L559.36 147.64 L559.86 147.30 L560.36 146.96 L560.86 146.62 L561.36 146.28 L561.86 145.94 L562.36 145.60 L562.86 145.26 L563.36 144.92 L563.86 144.58 L564.36 144.24 L564.86 143.90 L565.36 143.56 L565.86 143.22 L566.36 142.88 L566.86 142.54 L567.36 142.20 L567.86 141.87 L568.36 141.53 L568.86 141.19 L569.36 140.85 L569.86 140.51 L570.36 140.17 L570.87 139.83 L571.37 139.49 L571.87 139.15 L572.37 138.81 L572.87 138.47 L573.37 138.13 L573.87 137.80 L574.37 137.46 L574.87 137.12 L575.37 136.78 L575.87 136.44 L576.37 136.10 L576.87 135.76 L577.37 135.43 L577.87 135.09 L578.37 134.75 L578.87 134.41 L579.37 134.07 L579.87 133.73 L580.37 133.40 L580.87 133.06 L581.37 132.72 L581.87 132.38 L582.37 132.04 L582.87 131.71 L583.37 131.37 L583.87 131.03 L584.37 130.69 L584.87 130.35 L585.37 130.02 L585.87 129.68 L586.37 129.34 L586.87 129.00 L587.37 128.67 L587.87 128.33 L588.37 127.99 L588.87 127.65 L589.37 127.32 L589.87 126.98 L590.37 126.64 L590.87 126.31 L591.37 125.97 L591.87 125.63 L592.37 125.29 L592.87 124.96 L593.37 124.62 L593.87 124.28 L594.37 123.95 L594.87 123.61 L595.37 123.27 L595.87 122.94 L596.37 122.60 L596.87 122.26 L597.37 121.93 L597.87 121.59 L598.37 121.26 L598.87 120.92 L599.37 120.58 L599.87 120.25 L600.37 119.91 L600.87 119.57 L601.37 119.24 L601.87 118.90 L602.37 118.57 L602.87 118.23 L603.37 117.89 L603.87 117.56 L604.37 117.22 L604.87 116.89 L605.37 116.55 L605.87 116.21 L606.37 115.88 L606.87 115.54 L607.37 115.21 L607.87 114.87 L608.37 114.54 L608.87 114.20 L609.37 113.87 L609.87 113.53 L610.37 113.20 L610.87 112.86 L611.37 112.53 L611.87 112.19 L612.37 111.85 L612.87 111.52 L613.37 111.18 L613.87 110.85 L614.37 110.51 L614.87 110.18 L615.37 109.84 L615.87 109.51 L616.37 109.18 L616.87 108.84 L617.37 108.51 L617.87 108.17 L618.37 107.84 L618.87 107.50 L619.37 107.17 L619.87 106.83 L620.37 106.50 L620.87 106.16 L621.37 105.83 L621.87 105.50 L622.37 105.16 L622.87 104.83 L623.37 104.49 L623.87 104.16 L624.37 103.82 L624.87 103.49 L625.37 103.16 L625.87 102.82 L626.37 102.49 L626.87 102.15 L627.37 101.82 L627.87 101.49 L628.37 101.15 L628.87 100.82 L629.37 100.49 L629.87 100.15 L630.37 99.82 L630.87 99.48 L631.37 99.15 L631.87 98.82 L632.37 98.48 L632.87 98.15 L633.37 97.82 L633.87 97.48 L634.37 97.15 L634.87 96.82 L635.37 96.48 L635.87 96.15 L636.37 95.82 L636.87 95.48 L637.37 95.15 L637.87 94.82 L638.37 94.49 L638.87 94.15 L639.37 93.82 L639.87 93.49 L640.37 93.15 L640.88 92.82 L641.38 92.49 L641.88 92.15 L642.38 91.82 L642.88 91.49 L643.38 91.16 L643.88 90.82 L644.38 90.49 L644.88 90.16 L645.38 89.83 L645.88 89.49 L646.38 89.16 L646.88 88.83 L647.38 88.50 L647.88 88.16 L648.38 87.83 L648.88 87.50 L649.38 87.17 L649.88 86.84 L650.38 86.50 L650.88 86.17 L651.38 85.84 L651.88 85.51 L652.38 85.18 L652.88 84.84 L653.38 84.51 L653.88 84.18 L654.38 83.85 L654.88 83.52 L655.38 83.18 L655.88 82.85 L656.38 82.52 L656.88 82.19 L657.38 81.86 L657.88 81.53 L658.38 81.19 L658.88 80.86 L659.38 80.53 L659.88 80.20 L660.38 79.87 L660.88 79.54 L661.38 79.20 L661.88 78.87 L662.38 78.54 L662.88 78.21 L663.38 77.88 L663.88 77.55 L664.38 77.22 L664.88 76.89 L665.38 76.55 L665.88 76.22 L666.38 75.89 L666.88 75.56 L667.38 75.23 L667.88 74.90 L668.38 74.57 L668.88 74.24 L669.38 73.91 L669.88 73.58 L670.38 73.24 L670.88 72.91 L671.38 72.58 L671.88 72.25 L672.38 71.92 L672.88 71.59 L673.38 71.26 L673.88 70.93 L674.38 70.60 L674.88 70.27 L675.38 69.94 L675.88 69.61 L676.38 69.28 L676.88 68.95 L677.38 68.62 L677.88 68.29 L678.38 67.96 L678.88 67.63 L679.38 67.30 L679.88 66.96 L680.38 66.63 L680.88 66.30 L681.38 65.97 L681.88 65.64 L682.38 65.31 L682.88 64.98 L683.38 64.65 L683.88 64.32 L684.38 63.99 L684.88 63.66 L685.38 63.33 L685.88 63.00 L686.38 62.67 L686.88 62.34 L687.38 62.01 L687.88 61.68 L688.38 61.35 L688.88 61.03 L689.38 60.70 L689.88 60.37 L690.38 60.04 L690.88 59.71 L691.38 59.38 L691.88 59.05 L692.38 58.72 L692.88 58.39 L693.38 58.06 L693.88 57.73 L694.38 57.40 L694.88 57.07 L695.38 56.74 L695.88 56.41 L696.38 56.08 L696.88 55.75 L697.38 55.42 L697.88 55.09 L698.38 54.77 L698.88 54.44 L699.38 54.11 L699.88 53.78 L700.38 53.45 L700.88 53.12 L701.38 52.79 L701.88 52.46 L702.38 52.13 L702.88 51.80 L703.38 51.48 L703.88 51.15 L704.38 50.82 L704.88 50.49 L705.38 50.16 L705.88 49.83 L706.38 49.50 L706.88 49.17 L707.38 48.84 L707.88 48.52 L708.38 48.19 L708.88 47.86 L709.38 47.53 L709.88 47.20 L710.38 46.87 L710.88 46.54 L711.39 46.22 L711.89 45.89 L712.39 45.56 L712.89 45.23 L713.39 44.90 L713.89 44.57 L714.39 44.25 L714.89 43.92 L715.39 43.59 L715.89 43.26 L716.39 42.93 L716.89 42.60 L717.39 42.28 L717.89 41.95 L718.39 41.62 L718.89 41.29 L719.39 40.96 L719.89 40.63 L720.39 40.31 L720.89 39.98 L721.39 39.65 L721.89 39.32 L722.39 38.99 L722.89 38.67 L723.39 38.34 L723.89 38.01 L724.39 37.68 L724.89 37.35 L725.39 37.03 L725.89 36.70 L726.39 36.37 L726.89 36.04 L727.39 35.72 L727.89 35.39 L728.39 35.06 L728.89 34.73 L729.39 34.41 L729.89 34.08 L730.39 33.75 L730.89 33.42 L731.39 33.09 L731.89 32.77 L732.39 32.44 L732.89 32.11 L733.39 31.78 L733.89 31.46 L734.39 31.13 L734.89 30.80 L735.39 30.48 L735.89 30.15 L736.39 29.82 L736.89 29.49 L737.39 29.17 L737.89 28.84 L738.39 28.51 L738.89 28.18 L739.39 27.86 L739.89 27.53 L740.39 27.20 L740.89 26.88 L741.39 26.55 L741.89 26.22 L742.39 25.89 L742.89 25.57 L743.39 25.24 L743.89 24.91 L744.39 24.59 L744.89 24.26 L745.39 23.93 L745.89 23.60 L746.39 23.28 L746.89 22.95 L747.39 22.62 L747.89 22.30 L748.39 21.97 L748.89 21.64 L749.39 21.32 L749.89 20.99 L750.39 20.66 L750.89 20.34 L751.39 20.01 L751.89 19.68 L752.39 19.36 L752.89 19.03 L753.39 18.70 L753.89 18.38 L754.39 18.05 L754.89 17.72 L755.39 17.40 L755.89 17.07 L756.39 16.74 L756.89 16.42 L757.39 16.09 L757.89 15.76 L758.39 15.44 L758.89 15.11 L759.39 14.79 L759.89 14.46 L760.39 14.13 L760.89 13.81 L761.39 13.48 L761.89 13.15 L762.39 12.83 L762.89 12.50 L763.39 12.17 L763.89 11.85 L764.39 11.52 L764.89 11.20 L765.39 10.87 L765.89 10.54 L766.39 10.22 L766.89 9.89 L767.39 9.57 L767.89 9.24 L768.39 8.91 L768.89 8.59 L769.39 8.26 L769.89 7.94 L770.39 7.61 L770.89 7.28 L771.39 6.96 L771.89 6.63 L772.39 6.31 L772.89 5.98 L773.39 5.65 L773.89 5.33 L774.39 5.00 L774.89 4.68 L775.39 4.35 L775.89 4.02 L776.39 3.70 L776.89 3.37 L777.39 3.05 L777.89 2.72 L778.39 2.40 L778.89 2.07 L779.39 1.75 L779.89 1.42 L780.39 1.09 L780.89 0.77 L781.40 0.44 L781.90 0.12 L782.40 -0.21 L782.90 -0.53 L783.40 -0.86 L783.90 -1.19 L784.40 -1.51 L784.90 -1.84 L785.40 -2.16 L785.90 -2.49 L786.40 -2.81 L786.90 -3.14 L787.40 -3.46 L787.90 -3.79 L788.40 -4.11 L788.90 -4.44 L789.40 -4.76 L789.90 -5.09 L790.40 -5.41 L790.90 -5.74 L791.40 -6.07 L791.90 -6.39 L792.40 -6.72 L792.90 -7.04 L793.40 -7.37 L793.90 -7.69 L794.40 -8.02 L794.90 -8.34 L795.40 -8.67 L795.90 -8.99 L796.40 -9.32 L796.90 -9.64 L797.40 -9.97 L797.90 -10.29 L798.40 -10.62 L798.90 -10.94 L799.40 -11.27 L799.90 -11.59 L800.40 -11.92 L800.90 -12.24 L801.40 -12.57 L801.90 -12.89 L802.40 -13.22 L802.90 -13.54 L803.40 -13.87 L803.90 -14.19 L804.40 -14.52 L804.90 -14.84 L805.40 -15.17 L805.90 -15.49 L806.40 -15.82 L806.90 -16.14 L807.40 -16.46 L807.90 -16.79 L808.40 -17.11 L808.90 -17.44 L809.40 -17.76 L809.90 -18.09 L810.40 -18.41 L810.90 -18.74 L811.40 -19.06 L811.90 -19.39 L812.40 -19.71 L812.90 -20.04 L813.40 -20.36 L813.90 -20.69 L814.40 -21.01 L814.90 -21.33 L815.40 -21.66 L815.90 -21.98" stroke="#00f082" stroke-dasharray="8.1 3.4 2.1 3.435"/>
<path d="M236.32 513.84 L236.82 512.44 L237.32 511.05 L237.82 509.68 L238.32 508.31 L238.82 506.96 L239.32 505.62 L239.78 504.39 M241.21 500.66 L241.32 500.37 L241.82 499.09 L241.91 498.85 M243.38 495.13 L243.82 494.06 L244.11 493.33 M245.63 489.64 L245.82 489.18 L246.32 487.99 L246.38 487.84 M247.86 484.36 L248.32 483.29 L248.82 482.14 L249.32 481.00 L249.82 479.86 L250.32 478.74 L250.82 477.62 L251.32 476.51 L251.82 475.40 L252.32 474.31 L252.45 474.02 M254.08 470.51 L254.32 469.99 L254.82 468.93 L254.88 468.81 M256.55 465.32 L256.82 464.76 L257.32 463.73 L257.37 463.62 M259.09 460.16 L259.32 459.69 L259.82 458.70 L259.93 458.47 M261.60 455.20 L261.82 454.77 L262.32 453.81 L262.82 452.85 L263.32 451.89 L263.82 450.94 L264.32 450.00 L264.82 449.06 L265.32 448.12 L265.82 447.19 L266.32 446.27 L266.82 445.35 L266.85 445.30 M268.70 441.94 L268.82 441.72 L269.32 440.83 L269.62 440.31 M271.51 436.97 L271.82 436.42 L272.32 435.56 L272.44 435.35 M274.38 432.04 L274.82 431.28 L275.32 430.44 L275.33 430.43 M277.20 427.31 L277.32 427.11 L277.82 426.28 L278.32 425.46 L278.82 424.65 L279.32 423.84 L279.82 423.03 L280.32 422.22 L280.82 421.42 L281.32 420.62 L281.82 419.83 L282.32 419.04 L282.82 418.25 L283.23 417.61 M285.35 414.32 L285.82 413.60 L286.32 412.83 L286.39 412.73 M288.55 409.47 L288.82 409.06 L289.32 408.31 L289.61 407.89 M291.80 404.66 L291.83 404.62 L292.33 403.90 L292.83 403.17 L292.88 403.09 M295.00 400.04 L295.33 399.58 L295.83 398.87 L296.33 398.16 L296.83 397.46 L297.33 396.75 L297.83 396.05 L298.33 395.35 L298.83 394.66 L299.33 393.97 L299.83 393.28 L300.33 392.59 L300.83 391.90 L301.33 391.22 L301.46 391.04 M303.71 387.99 L303.83 387.84 L304.33 387.17 L304.82 386.51 M307.10 383.49 L307.33 383.19 L307.83 382.54 L308.22 382.02 M310.54 379.02 L310.83 378.65 L311.33 378.01 L311.67 377.56 M313.90 374.74 L314.33 374.20 L314.83 373.57 L315.33 372.94 L315.83 372.32 L316.33 371.70 L316.83 371.07 L317.33 370.46 L317.83 369.84 L318.33 369.22 L318.83 368.61 L319.33 368.00 L319.83 367.38 L320.33 366.77 L320.67 366.36 M323.03 363.52 L323.33 363.15 L323.83 362.56 L324.18 362.14 M326.56 359.32 L326.83 359.00 L327.33 358.41 L327.72 357.95 M330.12 355.16 L330.33 354.92 L330.83 354.34 L331.30 353.80 M333.60 351.17 L333.83 350.90 L334.33 350.33 L334.83 349.77 L335.33 349.20 L335.83 348.64 L336.33 348.07 L336.83 347.51 L337.33 346.95 L337.83 346.39 L338.33 345.83 L338.83 345.28 L339.33 344.72 L339.83 344.17 L340.33 343.62 L340.83 343.06 L341.09 342.78 M343.68 339.94 L343.83 339.78 L344.33 339.23 L344.83 338.69 L344.95 338.56 M347.57 335.74 L347.83 335.46 L348.33 334.92 L348.83 334.39 L348.85 334.37 M351.49 331.57 L351.83 331.20 L352.33 330.68 L352.78 330.21 M355.30 327.57 L355.33 327.54 L355.83 327.02 L356.33 326.50 L356.83 325.98 L357.33 325.46 L357.83 324.95 L358.33 324.43 L358.83 323.92 L359.33 323.40 L359.83 322.89 L360.33 322.38 L360.83 321.87 L361.34 321.36 L361.84 320.85 L362.34 320.34 L362.84 319.83 L363.23 319.43 M365.97 316.67 L366.34 316.31 L366.84 315.81 L367.31 315.33 M370.07 312.59 L370.34 312.33 L370.84 311.83 L371.34 311.34 L371.42 311.26 M374.19 308.53 L374.34 308.39 L374.84 307.91 L375.34 307.42 L375.55 307.21 M378.20 304.64 L378.34 304.51 L378.84 304.03 L379.34 303.55 L379.84 303.07 L380.34 302.59 L380.84 302.11 L381.34 301.63 L381.84 301.15 L382.34 300.67 L382.84 300.20 L383.34 299.72 L383.84 299.24 L384.34 298.77 L384.84 298.30 L385.34 297.82 L385.84 297.35 L386.34 296.88 L386.38 296.83 M389.21 294.18 L389.34 294.06 L389.84 293.59 L390.34 293.12 L390.58 292.90 M393.42 290.26 L393.84 289.87 L394.34 289.41 L394.80 288.98 M397.65 286.36 L397.84 286.19 L398.34 285.73 L398.84 285.27 L399.04 285.09 M401.76 282.62 L401.84 282.54 L402.34 282.09 L402.84 281.64 L403.34 281.18 L403.84 280.73 L404.34 280.28 L404.84 279.83 L405.34 279.38 L405.84 278.93 L406.34 278.48 L406.84 278.03 L407.34 277.59 L407.84 277.14 L408.34 276.69 L408.84 276.24 L409.34 275.80 L409.84 275.35 L410.17 275.06 M413.07 272.49 L413.34 272.25 L413.84 271.81 L414.34 271.36 L414.48 271.24 M417.39 268.69 L417.84 268.29 L418.34 267.85 L418.81 267.44 M421.73 264.90 L421.84 264.80 L422.34 264.37 L422.84 263.93 L423.15 263.67 M425.93 261.27 L426.34 260.91 L426.84 260.48 L427.34 260.05 L427.84 259.62 L428.34 259.19 L428.84 258.76 L429.34 258.33 L429.84 257.91 L430.34 257.48 L430.85 257.05 L431.35 256.63 L431.85 256.20 L432.35 255.77 L432.85 255.35 L433.35 254.92 L433.85 254.50 L434.35 254.07 L434.53 253.92 M437.49 251.42 L437.85 251.12 L438.35 250.69 L438.85 250.27 L438.93 250.20 M441.89 247.72 L442.35 247.34 L442.85 246.92 L443.34 246.51 M446.31 244.03 L446.35 244.00 L446.85 243.59 L447.35 243.17 L447.77 242.83 M450.59 240.49 L450.85 240.28 L451.35 239.87 L451.85 239.45 L452.35 239.04 L452.85 238.63 L453.35 238.22 L453.85 237.81 L454.35 237.40 L454.85 236.99 L455.35 236.58 L455.85 236.17 L456.35 235.76 L456.85 235.35 L457.35 234.94 L457.85 234.54 L458.35 234.13 L458.85 233.72 L459.35 233.32 M462.35 230.88 L462.85 230.47 L463.35 230.07 L463.82 229.69 M466.83 227.26 L466.85 227.24 L467.35 226.84 L467.85 226.44 L468.30 226.08 M471.32 223.66 L471.35 223.63 L471.85 223.23 L472.35 222.83 L472.79 222.48 M475.66 220.19 L475.85 220.04 L476.35 219.64 L476.85 219.24 L477.35 218.85 L477.85 218.45 L478.35 218.05 L478.85 217.66 L479.35 217.26 L479.85 216.87 L480.35 216.47 L480.85 216.07 L481.35 215.68 L481.85 215.28 L482.35 214.89 L482.85 214.50 L483.35 214.10 L483.85 213.71 L484.35 213.31 L484.53 213.17 M487.58 210.78 L487.85 210.57 L488.35 210.17 L488.85 209.78 L489.06 209.62 M492.11 207.24 L492.35 207.05 L492.85 206.66 L493.35 206.27 L493.60 206.08 M496.66 203.71 L496.85 203.55 L497.35 203.16 L497.85 202.78 L498.15 202.55 M501.05 200.31 L501.36 200.07 L501.86 199.69 L502.36 199.30 L502.86 198.92 L503.36 198.53 L503.86 198.15 L504.36 197.76 L504.86 197.38 L505.36 196.99 L505.86 196.61 L506.36 196.23 L506.86 195.84 L507.36 195.46 L507.86 195.08 L508.36 194.69 L508.86 194.31 L509.36 193.93 L509.86 193.55 L510.03 193.42 M513.10 191.07 L513.36 190.88 L513.86 190.49 L514.36 190.11 L514.60 189.93 M517.68 187.59 L517.86 187.46 L518.36 187.08 L518.86 186.70 L519.19 186.45 M522.27 184.11 L522.36 184.05 L522.86 183.67 L523.36 183.30 L523.78 182.98 M526.71 180.77 L526.86 180.66 L527.36 180.29 L527.86 179.91 L528.36 179.53 L528.86 179.16 L529.36 178.78 L529.86 178.41 L530.36 178.03 L530.86 177.66 L531.36 177.29 L531.86 176.91 L532.36 176.54 L532.86 176.16 L533.36 175.79 L533.86 175.42 L534.36 175.04 L534.86 174.67 L535.36 174.30 L535.77 173.99 M538.87 171.68 L539.36 171.32 L539.86 170.95 L540.36 170.58 L540.39 170.56 M543.50 168.25 L543.86 167.98 L544.36 167.61 L544.86 167.24 L545.01 167.13 M548.13 164.83 L548.36 164.65 L548.86 164.29 L549.36 163.92 L549.64 163.71 M552.60 161.53 L552.86 161.34 L553.36 160.97 L553.86 160.61 L554.36 160.24 L554.86 159.87 L555.36 159.50 L555.86 159.14 L556.36 158.77 L556.86 158.40 L557.36 158.04 L557.86 157.67 L558.36 157.31 L558.86 156.94 L559.36 156.57 L559.86 156.21 L560.36 155.84 L560.86 155.48 L561.36 155.11 L561.86 154.75 L562.21 154.49 M565.50 152.09 L565.86 151.83 L566.36 151.47 L566.86 151.10 L567.11 150.93 M570.41 148.53 L570.87 148.20 L571.37 147.84 L571.87 147.47 L572.01 147.37 M575.32 144.98 L575.37 144.94 L575.87 144.58 L576.37 144.22 L576.87 143.86 L576.92 143.81 M580.06 141.55 L580.37 141.33 L580.87 140.97 L581.37 140.61 L581.87 140.25 L582.37 139.89 L582.87 139.53 L583.37 139.17 L583.87 138.81 L584.37 138.45 L584.87 138.09 L585.37 137.73 L585.87 137.38 L586.37 137.02 L586.87 136.66 L587.37 136.30 L587.87 135.94 L588.37 135.58 L588.87 135.22 L589.00 135.13 M592.07 132.93 L592.37 132.72 L592.87 132.36 L593.37 132.00 L593.56 131.87 M596.63 129.68 L596.87 129.50 L597.37 129.15 L597.87 128.79 L598.12 128.61 M601.19 126.43 L601.37 126.30 L601.87 125.95 L602.37 125.59 L602.69 125.37 M605.60 123.30 L605.87 123.10 L606.37 122.75 L606.87 122.40 L607.37 122.04 L607.87 121.69 L608.37 121.33 L608.87 120.98 L609.37 120.62 L609.87 120.27 L610.37 119.92 L610.87 119.56 L611.37 119.21 L611.87 118.86 L612.37 118.50 L612.87 118.15 L613.37 117.80 L613.87 117.44 L614.37 117.09 L614.87 116.74 L614.88 116.73 M618.06 114.49 L618.37 114.27 L618.87 113.92 L619.37 113.57 L619.61 113.40 M622.79 111.16 L622.87 111.10 L623.37 110.75 L623.87 110.40 L624.34 110.07 M627.53 107.84 L627.87 107.60 L628.37 107.24 L628.87 106.89 L629.08 106.75 M632.10 104.64 L632.37 104.44 L632.87 104.09 L633.37 103.75 L633.87 103.40 L634.37 103.05 L634.87 102.70 L635.37 102.35 L635.87 102.00 L636.37 101.65 L636.87 101.30 L637.37 100.95 L637.87 100.60 L638.37 100.25 L638.87 99.91 L639.37 99.56 L639.87 99.21 L640.37 98.86 L640.88 98.51 L641.38 98.16 L641.38 98.16 M644.56 95.95 L644.88 95.73 L645.38 95.38 L645.88 95.03 L646.11 94.87 M649.29 92.66 L649.38 92.60 L649.88 92.26 L650.38 91.91 L650.84 91.59 M654.03 89.38 L654.38 89.14 L654.88 88.79 L655.38 88.45 L655.58 88.31 M658.60 86.22 L658.88 86.03 L659.38 85.68 L659.88 85.34 L660.38 84.99 L660.88 84.65 L661.38 84.30 L661.88 83.96 L662.38 83.61 L662.88 83.27 L663.38 82.92 L663.88 82.58 L664.38 82.23 L664.88 81.89 L665.38 81.54 L665.88 81.20 L666.38 80.85 L666.88 80.51 L667.38 80.16 L667.88 79.82 L667.89 79.82 M671.06 77.63 L671.38 77.41 L671.88 77.07 L672.38 76.73 L672.61 76.57 M675.79 74.38 L675.88 74.32 L676.38 73.98 L676.88 73.64 L677.34 73.32 M680.53 71.14 L680.88 70.90 L681.38 70.55 L681.88 70.21 L682.08 70.07 M685.10 68.01 L685.38 67.82 L685.88 67.47 L686.38 67.13 L686.88 66.79 L687.38 66.45 L687.88 66.11 L688.38 65.77 L688.88 65.42 L689.38 65.08 L689.88 64.74 L690.38 64.40 L690.88 64.06 L691.38 63.72 L691.88 63.38 L692.38 63.04 L692.88 62.69 L693.38 62.35 L693.88 62.01 L694.23 61.78 M697.35 59.65 L697.38 59.63 L697.88 59.29 L698.38 58.95 L698.87 58.62 M702.00 56.49 L702.38 56.23 L702.88 55.89 L703.38 55.55 L703.52 55.45 M706.65 53.33 L706.88 53.17 L707.38 52.83 L707.88 52.49 L708.17 52.30 M711.14 50.28 L711.39 50.12 L711.89 49.78 L712.39 49.44 L712.89 49.10 L713.39 48.76 L713.89 48.43 L714.39 48.09 L714.89 47.75 L715.39 47.41 L715.89 47.07 L716.39 46.73 L716.89 46.40 L717.39 46.06 L717.89 45.72 L718.39 45.38 L718.89 45.04 L719.39 44.71 L719.89 44.37 L720.29 44.09 M723.42 41.98 L723.89 41.67 L724.39 41.33 L724.89 40.99 L724.95 40.95 M728.08 38.83 L728.39 38.63 L728.89 38.29 L729.39 37.96 L729.61 37.80 M732.75 35.69 L732.89 35.60 L733.39 35.26 L733.89 34.92 L734.27 34.66 M737.25 32.66 L737.39 32.57 L737.89 32.23 L738.39 31.90 L738.89 31.56 L739.39 31.22 L739.89 30.89 L740.39 30.55 L740.89 30.22 L741.39 29.88 L741.89 29.55 L742.39 29.21 L742.89 28.87 L743.39 28.54 L743.89 28.20 L744.39 27.87 L744.89 27.53 L745.39 27.20 L745.89 26.86 L746.39 26.52 L746.42 26.50 M749.56 24.40 L749.89 24.18 L750.39 23.84 L750.89 23.51 L751.09 23.37 M754.23 21.27 L754.39 21.16 L754.89 20.83 L755.39 20.49 L755.76 20.24 M758.91 18.14 L759.39 17.82 L759.89 17.48 L760.39 17.15 L760.44 17.12 M763.42 15.13 L763.89 14.81 L764.39 14.48 L764.89 14.14 L765.39 13.81 L765.89 13.48 L766.39 13.14 L766.89 12.81 L767.39 12.47 L767.89 12.14 L768.39 11.81 L768.89 11.47 L769.39 11.14 L769.89 10.81 L770.39 10.47 L770.89 10.14 L771.39 9.81 L771.89 9.47 L772.39 9.14 L772.61 9.00 M775.76 6.90 L775.89 6.81 L776.39 6.47 L776.89 6.14 L777.29 5.88 M780.44 3.78 L780.89 3.48 L781.40 3.15 L781.90 2.81 L781.97 2.76 M785.12 0.67 L785.40 0.49 L785.90 0.15 L786.40 -0.18 L786.65 -0.35 M789.64 -2.33 L789.90 -2.50 L790.40 -2.84 L790.90 -3.17 L791.40 -3.50 L791.90 -3.83 L792.40 -4.16 L792.90 -4.49 L793.40 -4.83 L793.90 -5.16 L794.40 -5.49 L794.90 -5.82 L795.40 -6.15 L795.90 -6.48 L796.40 -6.82 L796.90 -7.15 L797.40 -7.48 L797.90 -7.81 L798.40 -8.14 L798.85 -8.44 M802.00 -10.53 L802.40 -10.79 L802.90 -11.12 L803.40 -11.46 L803.53 -11.54 M806.68 -13.63 L806.90 -13.77 L807.40 -14.10 L807.90 -14.43 L808.22 -14.65 M811.37 -16.73 L811.40 -16.75 L811.90 -17.08 L812.40 -17.41 L812.90 -17.74 L812.91 -17.75" stroke="#003cff"/>
</g>
<path d="M177.3 424.5V471.5 M210.8 408.2V456.5 M230.7 373.3V399.6 M244.9 332.4V423.6 M277.2 360.1V379.8 M281.7 323.3V358.3 M287.4 335.2V361.8 M294.2 275.8V351.4 M305.0 292.4V362.0 M309.9 331.9V366.7 M321.0 272.7V319.0 M322.1 290.6V323.6 M326.6 275.6V333.6 M340.0 264.2V317.2 M350.6 272.1V327.3 M351.8 286.4V322.7 M386.1 279.4V312.5 M390.4 262.0V299.1 M395.3 241.3V280.1 M400.25 217.9V283.0 M406.5 221.1V289.5 M409.5 256.0V313.6 M415.0 240.2V278.0 M169.8 449.8H184.8 M202.4 423.2H219.0 M227.0 384.8H234.1 M238.0 381.8H257.1 M271.3 366.4H283.1 M271.3 340.3H289.9 M278.9 347.6H299.5 M284.5 316.1H304.8 M289.0 334.7H322.0 M297.7 348.1H321.0 M305.0 293.6H335.5 M309.9 305.3H333.4 M313.7 299.6H354.7 M336.2 303.5H370.0 M339.0 306.1H361.8 M377.5 295.05H396.2 M378.3 282.9H400.4 M390.3 286.2H421.6 M385.6 262.6H406.4 M390.5 250.4H410.8 M398.2 255.0H416.5 M409.0 259.1H421.9" stroke="#000" stroke-width="1.7" fill="none"/>
<path d="M456.04 158.45L517.8 242.67M515.2 214.2L517.8 242.67L491.7 231.2" stroke="#000" stroke-width="1.6" fill="none" stroke-linejoin="round" stroke-linecap="round"/>
<path d="M148.15 515.12v-5.0M148.15 1.37v5.0 M174.68 515.12v-5.0M174.68 1.37v5.0 M198.07 515.12v-5.0M198.07 1.37v5.0 M219.00 515.12v-10.3M219.00 1.37v10.3 M356.69 515.12v-5.0M356.69 1.37v5.0 M437.23 515.12v-5.0M437.23 1.37v5.0 M494.37 515.12v-5.0M494.37 1.37v5.0 M538.69 515.12v-5.0M538.69 1.37v5.0 M574.91 515.12v-5.0M574.91 1.37v5.0 M605.53 515.12v-5.0M605.53 1.37v5.0 M632.06 515.12v-5.0M632.06 1.37v5.0 M655.45 515.12v-5.0M655.45 1.37v5.0 M676.38 515.12v-10.3M676.38 1.37v10.3 M117.8 499.75h7.0M813.9 499.75h-7.0 M117.8 486.52h7.0M813.9 486.52h-7.0 M117.8 475.07h7.0M813.9 475.07h-7.0 M117.8 464.97h7.0M813.9 464.97h-7.0 M117.8 455.93h14.1M813.9 455.93h-14.1 M117.8 396.48h7.0M813.9 396.48h-7.0 M117.8 361.70h7.0M813.9 361.70h-7.0 M117.8 337.02h7.0M813.9 337.02h-7.0 M117.8 317.88h7.0M813.9 317.88h-7.0 M117.8 302.25h7.0M813.9 302.25h-7.0 M117.8 289.02h7.0M813.9 289.02h-7.0 M117.8 277.57h7.0M813.9 277.57h-7.0 M117.8 267.47h7.0M813.9 267.47h-7.0 M117.8 258.43h14.1M813.9 258.43h-14.1 M117.8 198.98h7.0M813.9 198.98h-7.0 M117.8 164.20h7.0M813.9 164.20h-7.0 M117.8 139.52h7.0M813.9 139.52h-7.0 M117.8 120.38h7.0M813.9 120.38h-7.0 M117.8 104.75h7.0M813.9 104.75h-7.0 M117.8 91.52h7.0M813.9 91.52h-7.0 M117.8 80.07h7.0M813.9 80.07h-7.0 M117.8 69.97h7.0M813.9 69.97h-7.0 M117.8 60.93h14.1M813.9 60.93h-14.1" stroke="#000" stroke-width="1.7" fill="none"/>
<rect x="117.8" y="1.37" width="696.1" height="513.75" fill="none" stroke="#000" stroke-width="1.7" stroke-linejoin="round"/>
<path d="M814.03 0.5200000000000001V515.97" stroke="#000" stroke-width="1.95" fill="none"/>
<path d="M356.5 40.27H437.2" stroke="#ff2000" stroke-width="1.75" stroke-dasharray="2 3.3" fill="none"/>
<path d="M356.8 77.44H437.1" stroke="#00c8ff" stroke-width="1.75" stroke-dasharray="15.2 7.7" fill="none"/>
<path d="M424.1 115.2H441.2M432.6 106.7V123.8" stroke="#000" stroke-width="1.7" fill="none"/>
<path d="M437 364.0H538.9" stroke="#000" stroke-width="1.55" fill="none"/>
<path d="M437 402.0H539.1" stroke="#ff2000" stroke-width="1.75" stroke-dasharray="8 7.2" fill="none"/>
<path d="M437 440.0H539.1" stroke="#00f082" stroke-width="1.75" stroke-dasharray="8.1 3.4 2.1 3.5" fill="none"/>
<path d="M437 477.6H539.1" stroke="#003cff" stroke-width="1.75" stroke-dasharray="11.4 3.9 1.9 3.9 1.9 3.9 1.9 3.7" fill="none"/>
<g fill="none" stroke="#000" stroke-width="1.65" stroke-linecap="butt" stroke-linejoin="round"><path d="M150.29 27.55L157.39 46.20 M164.50 27.55L157.39 46.20 M173.38 27.55L170.71 28.44L168.94 31.10L168.05 35.54L168.05 38.21L168.94 42.65L170.71 45.31L173.38 46.20L175.15 46.20L177.82 45.31L179.59 42.65L180.48 38.21L180.48 35.54L179.59 31.10L177.82 28.44L175.15 27.55L173.38 27.55 M197.35 33.77L196.46 36.43L194.69 38.21L192.02 39.10L191.14 39.10L188.47 38.21L186.70 36.43L185.81 33.77L185.81 32.88L186.70 30.22L188.47 28.44L191.14 27.55L192.02 27.55L194.69 28.44L196.46 30.22L197.35 33.77L197.35 38.21L196.46 42.65L194.69 45.31L192.02 46.20L190.25 46.20L187.58 45.31L186.70 43.54 M218.66 27.55L218.66 46.20 M218.66 36.43L220.44 34.66L222.22 33.77L224.88 33.77L226.66 34.66L228.43 36.43L229.32 39.10L229.32 40.87L228.43 43.54L226.66 45.31L224.88 46.20L222.22 46.20L220.44 45.31L218.66 43.54 M234.65 39.10L245.30 39.10L245.30 37.32L244.42 35.54L243.53 34.66L241.75 33.77L239.09 33.77L237.31 34.66L235.54 36.43L234.65 39.10L234.65 40.87L235.54 43.54L237.31 45.31L239.09 46.20L241.75 46.20L243.53 45.31L245.30 43.54 M260.40 36.43L259.51 34.66L256.85 33.77L254.18 33.77L251.52 34.66L250.63 36.43L251.52 38.21L253.30 39.10L257.74 39.98L259.51 40.87L260.40 42.65L260.40 43.54L259.51 45.31L256.85 46.20L254.18 46.20L251.52 45.31L250.63 43.54 M267.50 27.55L267.50 42.65L268.39 45.31L270.17 46.20L271.94 46.20 M264.84 33.77L271.06 33.77 M296.81 27.55L295.03 27.55L293.26 28.44L292.37 31.10L292.37 46.20 M289.70 33.77L295.92 33.77 M301.25 27.55L302.14 28.44L303.02 27.55L302.14 26.66L301.25 27.55 M302.14 33.77L302.14 46.20 M310.13 27.55L310.13 42.65L311.02 45.31L312.79 46.20L314.57 46.20 M307.46 33.77L313.68 33.77 M320.78 33.77L319.90 34.66L320.78 35.54L321.67 34.66L320.78 33.77 M320.78 44.42L319.90 45.31L320.78 46.20L321.67 45.31L320.78 44.42"/>
<path d="M164.30 67.72L162.52 65.94L159.86 65.05L156.30 65.05L153.64 65.94L151.86 67.72L151.86 69.49L152.75 71.27L153.64 72.16L155.42 73.04L160.74 74.82L162.52 75.71L163.41 76.60L164.30 78.37L164.30 81.04L162.52 82.81L159.86 83.70L156.30 83.70L153.64 82.81L151.86 81.04 M174.95 65.05L172.29 65.94L170.51 68.60L169.62 73.04L169.62 75.71L170.51 80.15L172.29 82.81L174.95 83.70L176.73 83.70L179.39 82.81L181.17 80.15L182.06 75.71L182.06 73.04L181.17 68.60L179.39 65.94L176.73 65.05L174.95 65.05 M198.93 71.27L198.04 73.93L196.26 75.71L193.60 76.60L192.71 76.60L190.05 75.71L188.27 73.93L187.38 71.27L187.38 70.38L188.27 67.72L190.05 65.94L192.71 65.05L193.60 65.05L196.26 65.94L198.04 67.72L198.93 71.27L198.93 75.71L198.04 80.15L196.26 82.81L193.60 83.70L191.82 83.70L189.16 82.81L188.27 81.04 M220.24 65.05L220.24 83.70 M220.24 73.93L222.02 72.16L223.79 71.27L226.46 71.27L228.23 72.16L230.01 73.93L230.90 76.60L230.90 78.37L230.01 81.04L228.23 82.81L226.46 83.70L223.79 83.70L222.02 82.81L220.24 81.04 M236.22 76.60L246.88 76.60L246.88 74.82L245.99 73.04L245.10 72.16L243.33 71.27L240.66 71.27L238.89 72.16L237.11 73.93L236.22 76.60L236.22 78.37L237.11 81.04L238.89 82.81L240.66 83.70L243.33 83.70L245.10 82.81L246.88 81.04 M261.98 73.93L261.09 72.16L258.42 71.27L255.76 71.27L253.10 72.16L252.21 73.93L253.10 75.71L254.87 76.60L259.31 77.48L261.09 78.37L261.98 80.15L261.98 81.04L261.09 82.81L258.42 83.70L255.76 83.70L253.10 82.81L252.21 81.04 M269.08 65.05L269.08 80.15L269.97 82.81L271.74 83.70L273.52 83.70 M266.42 71.27L272.63 71.27 M298.38 65.05L296.61 65.05L294.83 65.94L293.94 68.60L293.94 83.70 M291.28 71.27L297.50 71.27 M302.82 65.05L303.71 65.94L304.60 65.05L303.71 64.16L302.82 65.05 M303.71 71.27L303.71 83.70 M311.70 65.05L311.70 80.15L312.59 82.81L314.37 83.70L316.14 83.70 M309.04 71.27L315.26 71.27 M322.36 71.27L321.47 72.16L322.36 73.04L323.25 72.16L322.36 71.27 M322.36 81.92L321.47 82.81L322.36 83.70L323.25 82.81L322.36 81.92"/>
<path d="M164.30 105.32L162.52 103.54L159.86 102.65L156.30 102.65L153.64 103.54L151.86 105.32L151.86 107.09L152.75 108.87L153.64 109.76L155.42 110.64L160.74 112.42L162.52 113.31L163.41 114.20L164.30 115.97L164.30 118.64L162.52 120.41L159.86 121.30L156.30 121.30L153.64 120.41L151.86 118.64 M174.95 102.65L172.29 103.54L170.51 106.20L169.62 110.64L169.62 113.31L170.51 117.75L172.29 120.41L174.95 121.30L176.73 121.30L179.39 120.41L181.17 117.75L182.06 113.31L182.06 110.64L181.17 106.20L179.39 103.54L176.73 102.65L174.95 102.65 M198.93 108.87L198.04 111.53L196.26 113.31L193.60 114.20L192.71 114.20L190.05 113.31L188.27 111.53L187.38 108.87L187.38 107.98L188.27 105.32L190.05 103.54L192.71 102.65L193.60 102.65L196.26 103.54L198.04 105.32L198.93 108.87L198.93 113.31L198.04 117.75L196.26 120.41L193.60 121.30L191.82 121.30L189.16 120.41L188.27 118.64 M230.01 102.65L230.01 121.30 M230.01 111.53L228.23 109.76L226.46 108.87L223.79 108.87L222.02 109.76L220.24 111.53L219.35 114.20L219.35 115.97L220.24 118.64L222.02 120.41L223.79 121.30L226.46 121.30L228.23 120.41L230.01 118.64 M246.88 108.87L246.88 121.30 M246.88 111.53L245.10 109.76L243.33 108.87L240.66 108.87L238.89 109.76L237.11 111.53L236.22 114.20L236.22 115.97L237.11 118.64L238.89 120.41L240.66 121.30L243.33 121.30L245.10 120.41L246.88 118.64 M254.87 102.65L254.87 117.75L255.76 120.41L257.54 121.30L259.31 121.30 M252.21 108.87L258.42 108.87 M274.41 108.87L274.41 121.30 M274.41 111.53L272.63 109.76L270.86 108.87L268.19 108.87L266.42 109.76L264.64 111.53L263.75 114.20L263.75 115.97L264.64 118.64L266.42 120.41L268.19 121.30L270.86 121.30L272.63 120.41L274.41 118.64 M295.72 108.87L295.72 127.52 M295.72 111.53L297.50 109.76L299.27 108.87L301.94 108.87L303.71 109.76L305.49 111.53L306.38 114.20L306.38 115.97L305.49 118.64L303.71 120.41L301.94 121.30L299.27 121.30L297.50 120.41L295.72 118.64 M316.14 108.87L314.37 109.76L312.59 111.53L311.70 114.20L311.70 115.97L312.59 118.64L314.37 120.41L316.14 121.30L318.81 121.30L320.58 120.41L322.36 118.64L323.25 115.97L323.25 114.20L322.36 111.53L320.58 109.76L318.81 108.87L316.14 108.87 M328.58 102.65L329.46 103.54L330.35 102.65L329.46 101.76L328.58 102.65 M329.46 108.87L329.46 121.30 M336.57 108.87L336.57 121.30 M336.57 112.42L339.23 109.76L341.01 108.87L343.67 108.87L345.45 109.76L346.34 112.42L346.34 121.30 M354.33 102.65L354.33 117.75L355.22 120.41L356.99 121.30L358.77 121.30 M351.66 108.87L357.88 108.87 M372.98 111.53L372.09 109.76L369.42 108.87L366.76 108.87L364.10 109.76L363.21 111.53L364.10 113.31L365.87 114.20L370.31 115.08L372.09 115.97L372.98 117.75L372.98 118.64L372.09 120.41L369.42 121.30L366.76 121.30L364.10 120.41L363.21 118.64 M380.08 108.87L379.19 109.76L380.08 110.64L380.97 109.76L380.08 108.87 M380.08 119.52L379.19 120.41L380.08 121.30L380.97 120.41L380.08 119.52"/>
<path d="M543.30 224.05L543.30 242.70 M537.09 224.05L549.52 224.05"/>
<path d="M558.86 244.34L559.96 246.00L560.51 246.55L561.61 247.10L562.71 247.10L563.81 246.55L564.36 246.00L564.91 244.90L564.91 243.79L564.36 242.69L563.81 242.14L562.71 241.59L561.61 241.59L560.51 242.14L559.96 242.69L557.76 246.00L557.21 246.55L556.11 247.10L555.00 247.10L553.90 246.55L553.35 246.00L552.80 244.90L552.80 243.79L553.35 242.69L553.90 242.14L555.00 241.59L556.11 241.59L557.21 242.14L557.76 242.69L558.86 244.34"/>
<path d="M566.40 353.35L566.40 372.00 M560.19 353.35L572.62 353.35"/>
<path d="M581.96 373.64L583.06 375.30L583.61 375.85L584.71 376.40L585.81 376.40L586.91 375.85L587.46 375.30L588.01 374.20L588.01 373.09L587.46 371.99L586.91 371.44L585.81 370.89L584.71 370.89L583.61 371.44L583.06 371.99L580.86 375.30L580.31 375.85L579.21 376.40L578.10 376.40L577.00 375.85L576.45 375.30L575.90 374.20L575.90 373.09L576.45 371.99L577.00 371.44L578.10 370.89L579.21 370.89L580.31 371.44L580.86 371.99L581.96 373.64"/>
<path d="M607.17 361.34L623.15 361.34 M607.17 366.67L623.15 366.67"/>
<path d="M648.89 353.35L646.23 354.24L644.45 356.90L643.56 361.34L643.56 364.01L644.45 368.45L646.23 371.11L648.89 372.00L650.67 372.00L653.33 371.11L655.11 368.45L656.00 364.01L656.00 361.34L655.11 356.90L653.33 354.24L650.67 353.35L648.89 353.35"/>
<path d="M566.40 390.95L566.40 409.60 M560.19 390.95L572.62 390.95"/>
<path d="M581.96 411.24L583.06 412.90L583.61 413.45L584.71 414.00L585.81 414.00L586.91 413.45L587.46 412.90L588.01 411.80L588.01 410.69L587.46 409.59L586.91 409.04L585.81 408.49L584.71 408.49L583.61 409.04L583.06 409.59L580.86 412.90L580.31 413.45L579.21 414.00L578.10 414.00L577.00 413.45L576.45 412.90L575.90 411.80L575.90 410.69L576.45 409.59L577.00 409.04L578.10 408.49L579.21 408.49L580.31 409.04L580.86 409.59L581.96 411.24"/>
<path d="M607.17 398.94L623.15 398.94 M607.17 404.27L623.15 404.27"/>
<path d="M646.23 394.50L648.00 393.62L650.67 390.95L650.67 409.60 M666.65 390.95L663.99 391.84L662.21 394.50L661.32 398.94L661.32 401.61L662.21 406.05L663.99 408.71L666.65 409.60L668.43 409.60L671.09 408.71L672.87 406.05L673.76 401.61L673.76 398.94L672.87 394.50L671.09 391.84L668.43 390.95L666.65 390.95 M685.23 386.49L684.68 385.39L683.03 384.84L681.93 384.84L680.27 385.39L679.17 387.04L678.62 389.79L678.62 392.55L679.17 394.75L680.27 395.85L681.93 396.40L682.48 396.40L684.13 395.85L685.23 394.75L685.78 393.10L685.78 392.55L685.23 390.89L684.13 389.79L682.48 389.24L681.93 389.24L680.27 389.79L679.17 390.89L678.62 392.55 M705.19 390.95L705.19 409.60 M717.62 390.95L705.19 403.38 M709.63 398.94L717.62 409.60"/>
<path d="M566.40 428.55L566.40 447.20 M560.19 428.55L572.62 428.55"/>
<path d="M581.96 448.84L583.06 450.50L583.61 451.05L584.71 451.60L585.81 451.60L586.91 451.05L587.46 450.50L588.01 449.40L588.01 448.29L587.46 447.19L586.91 446.64L585.81 446.09L584.71 446.09L583.61 446.64L583.06 447.19L580.86 450.50L580.31 451.05L579.21 451.60L578.10 451.60L577.00 451.05L576.45 450.50L575.90 449.40L575.90 448.29L576.45 447.19L577.00 446.64L578.10 446.09L579.21 446.09L580.31 446.64L580.86 447.19L581.96 448.84"/>
<path d="M607.17 436.54L623.15 436.54 M607.17 441.87L623.15 441.87"/>
<path d="M654.22 428.55L645.34 428.55L644.45 436.54L645.34 435.66L648.00 434.77L650.67 434.77L653.33 435.66L655.11 437.43L656.00 440.10L656.00 441.87L655.11 444.54L653.33 446.31L650.67 447.20L648.00 447.20L645.34 446.31L644.45 445.42L643.56 443.65"/>
<path d="M677.18 432.99L689.62 445.42 M689.62 432.99L677.18 445.42"/>
<path d="M711.53 432.10L713.30 431.22L715.97 428.55L715.97 447.20 M731.95 428.55L729.29 429.44L727.51 432.10L726.62 436.54L726.62 439.21L727.51 443.65L729.29 446.31L731.95 447.20L733.73 447.20L736.39 446.31L738.17 443.65L739.06 439.21L739.06 436.54L738.17 432.10L736.39 429.44L733.73 428.55L731.95 428.55 M750.53 424.09L749.98 422.99L748.33 422.44L747.23 422.44L745.57 422.99L744.47 424.64L743.92 427.39L743.92 430.15L744.47 432.35L745.57 433.45L747.23 434.00L747.78 434.00L749.43 433.45L750.53 432.35L751.08 430.70L751.08 430.15L750.53 428.49L749.43 427.39L747.78 426.84L747.23 426.84L745.57 427.39L744.47 428.49L743.92 430.15 M770.49 428.55L770.49 447.20 M782.92 428.55L770.49 440.98 M774.93 436.54L782.92 447.20"/>
<path d="M566.40 466.15L566.40 484.80 M560.19 466.15L572.62 466.15"/>
<path d="M581.96 486.44L583.06 488.10L583.61 488.65L584.71 489.20L585.81 489.20L586.91 488.65L587.46 488.10L588.01 487.00L588.01 485.89L587.46 484.79L586.91 484.24L585.81 483.69L584.71 483.69L583.61 484.24L583.06 484.79L580.86 488.10L580.31 488.65L579.21 489.20L578.10 489.20L577.00 488.65L576.45 488.10L575.90 487.00L575.90 485.89L576.45 484.79L577.00 484.24L578.10 483.69L579.21 483.69L580.31 484.24L580.86 484.79L581.96 486.44"/>
<path d="M607.17 474.14L623.15 474.14 M607.17 479.47L623.15 479.47"/>
<path d="M646.23 469.70L648.00 468.82L650.67 466.15L650.67 484.80 M666.65 466.15L663.99 467.04L662.21 469.70L661.32 474.14L661.32 476.81L662.21 481.25L663.99 483.91L666.65 484.80L668.43 484.80L671.09 483.91L672.87 481.25L673.76 476.81L673.76 474.14L672.87 469.70L671.09 467.04L668.43 466.15L666.65 466.15 M685.78 460.04L680.27 471.60 M678.07 460.04L685.78 460.04 M705.19 466.15L705.19 484.80 M717.62 466.15L705.19 478.58 M709.63 474.14L717.62 484.80"/>
<path d="M56.16 451.63L57.93 450.75L60.60 448.08L60.60 466.73 M76.58 448.08L73.92 448.97L72.14 451.63L71.25 456.07L71.25 458.74L72.14 463.18L73.92 465.84L76.58 466.73L78.36 466.73L81.02 465.84L82.80 463.18L83.69 458.74L83.69 456.07L82.80 451.63L81.02 448.97L78.36 448.08L76.58 448.08 M90.05 444.17L91.15 443.62L92.81 441.97L92.81 453.53 M100.51 441.97L106.57 441.97L103.27 446.37L104.92 446.37L106.02 446.92L106.57 447.47L107.12 449.13L107.12 450.23L106.57 451.88L105.47 452.98L103.82 453.53L102.17 453.53L100.51 452.98L99.96 452.43L99.41 451.33"/>
<path d="M56.16 254.13L57.93 253.25L60.60 250.58L60.60 269.23 M76.58 250.58L73.92 251.47L72.14 254.13L71.25 258.57L71.25 261.24L72.14 265.68L73.92 268.34L76.58 269.23L78.36 269.23L81.02 268.34L82.80 265.68L83.69 261.24L83.69 258.57L82.80 254.13L81.02 251.47L78.36 250.58L76.58 250.58 M90.05 246.67L91.15 246.12L92.81 244.47L92.81 256.03 M104.92 244.47L99.41 252.18L107.67 252.18 M104.92 244.47L104.92 256.03"/>
<path d="M56.16 56.63L57.93 55.75L60.60 53.08L60.60 71.73 M76.58 53.08L73.92 53.97L72.14 56.63L71.25 61.07L71.25 63.74L72.14 68.18L73.92 70.84L76.58 71.73L78.36 71.73L81.02 70.84L82.80 68.18L83.69 63.74L83.69 61.07L82.80 56.63L81.02 53.97L78.36 53.08L76.58 53.08 M90.05 49.17L91.15 48.62L92.81 46.97L92.81 58.53 M106.02 46.97L100.51 46.97L99.96 51.92L100.51 51.37L102.17 50.82L103.82 50.82L105.47 51.37L106.57 52.47L107.12 54.13L107.12 55.23L106.57 56.88L105.47 57.98L103.82 58.53L102.17 58.53L100.51 57.98L99.96 57.43L99.41 56.33"/>
<path d="M214.70 540.10L216.47 539.22L219.14 536.55L219.14 555.20"/>
<path d="M663.25 540.10L665.02 539.22L667.69 536.55L667.69 555.20 M683.67 536.55L681.01 537.44L679.23 540.10L678.34 544.54L678.34 547.21L679.23 551.65L681.01 554.31L683.67 555.20L685.45 555.20L688.11 554.31L689.89 551.65L690.78 547.21L690.78 544.54L689.89 540.10L688.11 537.44L685.45 536.55L683.67 536.55"/>
<path d="M388.35 570.95L388.35 589.60 M397.23 577.17L388.35 586.05 M391.90 582.50L398.12 589.60 M402.10 584.64L402.10 596.20 M402.10 584.64L407.05 584.64L408.70 585.19L409.26 585.74L409.81 586.84L409.81 587.94L409.26 589.04L408.70 589.59L407.05 590.14 M402.10 590.14L407.05 590.14L408.70 590.69L409.26 591.24L409.81 592.35L409.81 594.00L409.26 595.10L408.70 595.65L407.05 596.20L402.10 596.20 M418.56 570.95L418.56 589.60 M412.35 570.95L424.78 570.95 M433.92 584.64L428.42 584.64L427.87 589.59L428.42 589.04L430.07 588.49L431.72 588.49L433.37 589.04L434.47 590.14L435.03 591.80L435.03 592.90L434.47 594.55L433.37 595.65L431.72 596.20L430.07 596.20L428.42 595.65L427.87 595.10L427.32 594.00 M441.63 584.64L439.98 585.19L438.88 586.84L438.33 589.59L438.33 591.24L438.88 594.00L439.98 595.65L441.63 596.20L442.73 596.20L444.38 595.65L445.49 594.00L446.04 591.24L446.04 589.59L445.49 586.84L444.38 585.19L442.73 584.64L441.63 584.64 M452.64 584.64L450.99 585.19L449.89 586.84L449.34 589.59L449.34 591.24L449.89 594.00L450.99 595.65L452.64 596.20L453.74 596.20L455.40 595.65L456.50 594.00L457.05 591.24L457.05 589.59L456.50 586.84L455.40 585.19L453.74 584.64L452.64 584.64 M476.46 567.40L476.46 595.82 M476.46 567.40L482.68 567.40 M476.46 595.82L482.68 595.82 M488.89 570.95L488.89 589.60 M497.77 577.17L488.89 586.05 M492.44 582.50L498.66 589.60 M503.10 582.50L513.76 582.50L513.76 580.72L512.87 578.94L511.98 578.06L510.20 577.17L507.54 577.17L505.76 578.06L503.99 579.83L503.10 582.50L503.10 584.27L503.99 586.94L505.76 588.71L507.54 589.60L510.20 589.60L511.98 588.71L513.76 586.94 M517.31 570.95L524.41 589.60 M531.52 570.95L524.41 589.60 M541.28 567.40L541.28 595.82 M535.07 567.40L541.28 567.40 M535.07 595.82L541.28 595.82"/>
<g transform="translate(26.5 380.3) rotate(-90)"><path d="M3.55 -18.65L3.55 0.00 M3.55 -18.65L15.10 -18.65 M3.55 -9.77L10.66 -9.77 M3.55 0.00L15.10 0.00 M26.64 -22.20L24.86 -20.42L23.09 -17.76L21.31 -14.21L20.42 -9.77L20.42 -6.22L21.31 -1.78L23.09 1.78L24.86 4.44L26.64 6.22 M41.74 -12.43L31.97 0.00 M31.97 -12.43L41.74 -12.43 M31.97 0.00L41.74 0.00 M47.06 -22.20L48.84 -20.42L50.62 -17.76L52.39 -14.21L53.28 -9.77L53.28 -6.22L52.39 -1.78L50.62 1.78L48.84 4.44L47.06 6.22 M74.59 -18.65L74.59 0.00 M74.59 -18.65L81.70 0.00 M88.80 -18.65L81.70 0.00 M88.80 -18.65L88.80 0.00 M100.61 -4.96L95.10 -4.96L94.55 -0.01L95.10 -0.56L96.76 -1.11L98.41 -1.11L100.06 -0.56L101.16 0.54L101.71 2.20L101.71 3.30L101.16 4.95L100.06 6.05L98.41 6.60L96.76 6.60L95.10 6.05L94.55 5.50L94.00 4.40 M108.32 -4.96L106.67 -4.41L105.57 -2.76L105.01 -0.01L105.01 1.64L105.57 4.40L106.67 6.05L108.32 6.60L109.42 6.60L111.07 6.05L112.17 4.40L112.72 1.64L112.72 -0.01L112.17 -2.76L111.07 -4.41L109.42 -4.96L108.32 -4.96 M119.33 -4.96L117.68 -4.41L116.58 -2.76L116.03 -0.01L116.03 1.64L116.58 4.40L117.68 6.05L119.33 6.60L120.43 6.60L122.08 6.05L123.18 4.40L123.73 1.64L123.73 -0.01L123.18 -2.76L122.08 -4.41L120.43 -4.96L119.33 -4.96 M143.15 -22.20L143.15 6.22 M143.15 -22.20L149.36 -22.20 M143.15 6.22L149.36 6.22 M155.58 -18.65L155.58 0.00 M155.58 -8.88L158.24 -11.54L160.02 -12.43L162.68 -12.43L164.46 -11.54L165.35 -8.88L165.35 0.00 M171.10 -18.16L181.01 -18.16 M186.52 -22.56L187.62 -23.11L189.27 -24.76L189.27 -13.20 M197.78 -18.65L197.78 0.00 M197.78 -18.65L204.88 0.00 M211.98 -18.65L204.88 0.00 M211.98 -18.65L211.98 0.00 M238.48 -22.20L238.48 6.22 M232.26 -22.20L238.48 -22.20 M232.26 6.22L238.48 6.22"/><circle cx="223.09" cy="0.9" r="5.7" /><circle cx="223.09" cy="0.9" r="1.2" fill="#000" stroke="none"/></g></g>
</svg></body></html>
